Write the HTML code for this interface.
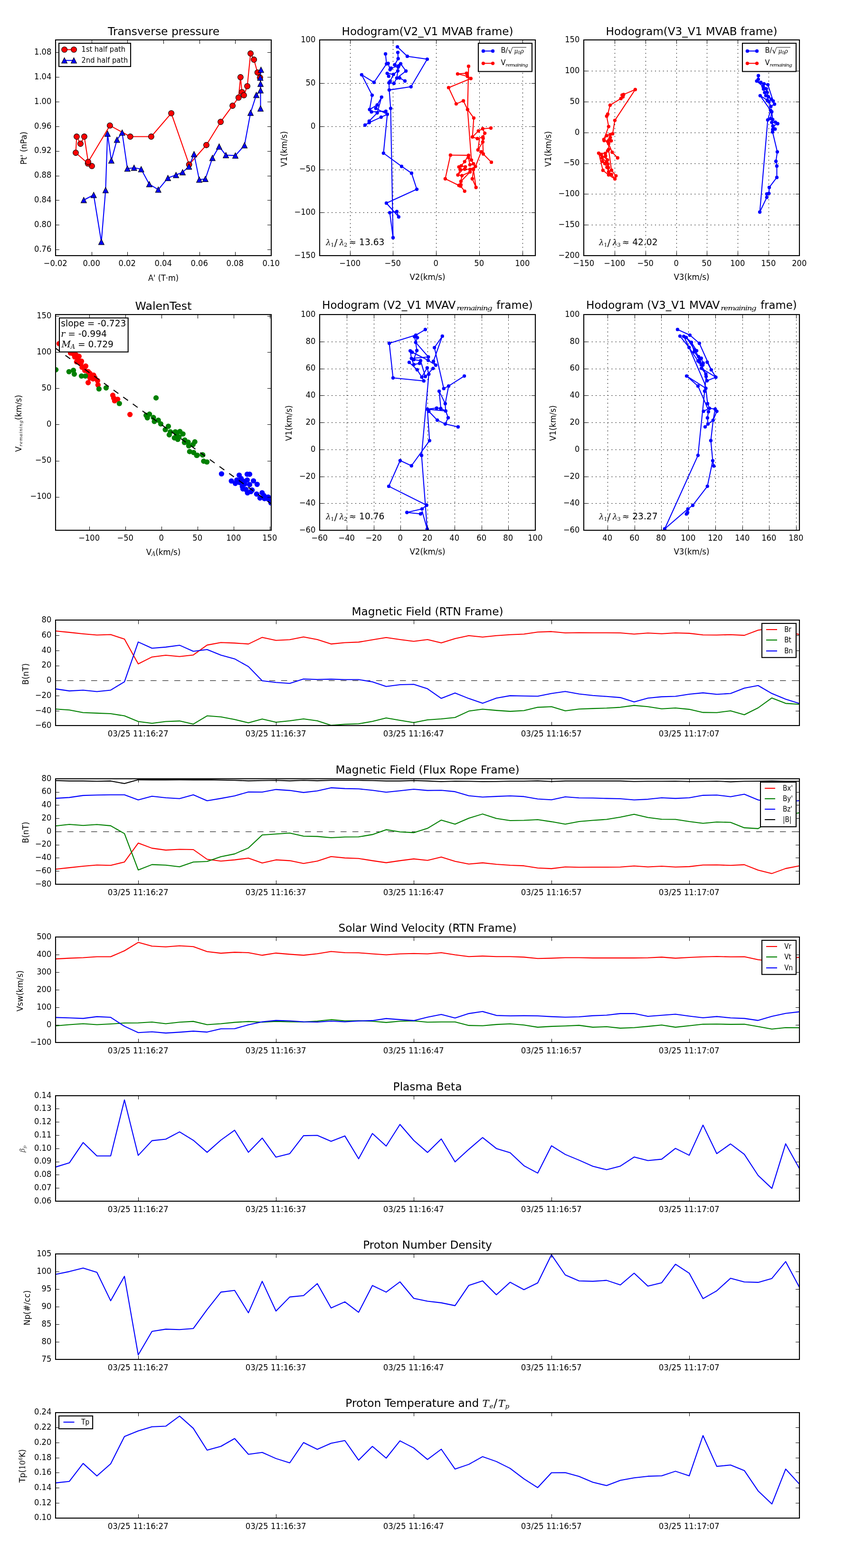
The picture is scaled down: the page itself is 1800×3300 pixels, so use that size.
<!DOCTYPE html>
<html lang="en"><head><meta charset="utf-8"><title>Flux rope analysis figure</title>
<style>
html,body{margin:0;padding:0;background:#fff}
svg{display:block;font-family:"DejaVu Sans", "Liberation Sans", sans-serif}
.sp{fill:none;stroke:#000;stroke-width:2.08}
.tk{fill:none;stroke:#000;stroke-width:1.04}
.gr{fill:none;stroke:#000;stroke-width:1.04;stroke-dasharray:2.08 6.25}
.lg{fill:#fff;stroke:#000;stroke-width:2.08}
.m{font-family:"DejaVu Serif", "Liberation Serif", serif;font-style:italic}
.r{font-family:"DejaVu Serif", "Liberation Serif", serif;font-style:normal}
</style></head>
<body>
<svg width="1800" height="3300" viewBox="0 0 1800 3300">
<rect width="1800" height="3300" fill="#fff"/>
<clipPath id="c1"><rect x="117" y="84" width="454" height="454"/></clipPath>
<polyline points="193.45,349.43 185.09,344.09 159.47,321.49 161.42,287.51 169.43,302.46 177.44,287.51 185.62,340.71 231.35,264.2 274.23,287.51 318.36,287.51 360.6,238.33 398.15,346.26 434.45,305.23 464.52,256.48 489.61,222.49 502.24,205.41 506.33,162.53 509.36,193.84 513.45,200.43 520.57,181.39 527.51,112.53 534.63,125.52 542.1,152.56 547.44,163.24" fill="none" stroke="#ff0000" stroke-width="2.08" stroke-linejoin="round" clip-path="url(#c1)"/>
<polyline points="549.4,146.87 547.97,163.42 548.51,176.41 548.51,228.36 548.51,190.11 539.61,199.89 527.51,237.26 514.7,305.77 495.48,327.4 475.55,326.51 461.32,308.36 447.26,332.38 432.31,376.69 419.5,378.11 408.47,324.38 397.79,350.53 384.45,362.46 370.57,368.33 353.49,374.56 333.2,399.11 314.27,387.69 297.19,356.01 282.24,352.99 268.19,354.95 257.15,279.15 246.3,294.09 234.38,337.86 226.37,281.28 222.28,400.14 213.38,509.04 197.19,410.28 176.37,420.96" fill="none" stroke="#0000ff" stroke-width="2.08" stroke-linejoin="round" clip-path="url(#c1)"/>
<g fill="#ff0000" stroke="#000" stroke-width="1.04" clip-path="url(#c1)">
<circle cx="193.45" cy="349.43" r="5.9"/>
<circle cx="185.09" cy="344.09" r="5.9"/>
<circle cx="159.47" cy="321.49" r="5.9"/>
<circle cx="161.42" cy="287.51" r="5.9"/>
<circle cx="169.43" cy="302.46" r="5.9"/>
<circle cx="177.44" cy="287.51" r="5.9"/>
<circle cx="185.62" cy="340.71" r="5.9"/>
<circle cx="231.35" cy="264.2" r="5.9"/>
<circle cx="274.23" cy="287.51" r="5.9"/>
<circle cx="318.36" cy="287.51" r="5.9"/>
<circle cx="360.6" cy="238.33" r="5.9"/>
<circle cx="398.15" cy="346.26" r="5.9"/>
<circle cx="434.45" cy="305.23" r="5.9"/>
<circle cx="464.52" cy="256.48" r="5.9"/>
<circle cx="489.61" cy="222.49" r="5.9"/>
<circle cx="502.24" cy="205.41" r="5.9"/>
<circle cx="506.33" cy="162.53" r="5.9"/>
<circle cx="509.36" cy="193.84" r="5.9"/>
<circle cx="513.45" cy="200.43" r="5.9"/>
<circle cx="520.57" cy="181.39" r="5.9"/>
<circle cx="527.51" cy="112.53" r="5.9"/>
<circle cx="534.63" cy="125.52" r="5.9"/>
<circle cx="542.1" cy="152.56" r="5.9"/>
<circle cx="547.44" cy="163.24" r="5.9"/>
</g>
<g fill="#0000ff" stroke="#000" stroke-width="1.04" clip-path="url(#c1)">
<path d="M549.4 140.97L543.5 152.77L555.3 152.77Z"/>
<path d="M547.97 157.52L542.07 169.32L553.87 169.32Z"/>
<path d="M548.51 170.51L542.61 182.31L554.41 182.31Z"/>
<path d="M548.51 222.46L542.61 234.26L554.41 234.26Z"/>
<path d="M548.51 184.21L542.61 196.01L554.41 196.01Z"/>
<path d="M539.61 193.99L533.71 205.79L545.51 205.79Z"/>
<path d="M527.51 231.36L521.61 243.16L533.41 243.16Z"/>
<path d="M514.7 299.87L508.8 311.67L520.6 311.67Z"/>
<path d="M495.48 321.5L489.58 333.3L501.38 333.3Z"/>
<path d="M475.55 320.61L469.65 332.41L481.45 332.41Z"/>
<path d="M461.32 302.46L455.42 314.26L467.22 314.26Z"/>
<path d="M447.26 326.48L441.36 338.28L453.16 338.28Z"/>
<path d="M432.31 370.79L426.41 382.59L438.21 382.59Z"/>
<path d="M419.5 372.21L413.6 384.01L425.4 384.01Z"/>
<path d="M408.47 318.48L402.57 330.28L414.37 330.28Z"/>
<path d="M397.79 344.63L391.89 356.43L403.69 356.43Z"/>
<path d="M384.45 356.56L378.55 368.36L390.35 368.36Z"/>
<path d="M370.57 362.43L364.67 374.23L376.47 374.23Z"/>
<path d="M353.49 368.66L347.59 380.46L359.39 380.46Z"/>
<path d="M333.2 393.21L327.3 405.01L339.1 405.01Z"/>
<path d="M314.27 381.79L308.37 393.59L320.17 393.59Z"/>
<path d="M297.19 350.11L291.29 361.91L303.09 361.91Z"/>
<path d="M282.24 347.09L276.34 358.89L288.14 358.89Z"/>
<path d="M268.19 349.05L262.29 360.85L274.09 360.85Z"/>
<path d="M257.15 273.25L251.25 285.05L263.05 285.05Z"/>
<path d="M246.3 288.19L240.4 299.99L252.2 299.99Z"/>
<path d="M234.38 331.96L228.48 343.76L240.28 343.76Z"/>
<path d="M226.37 275.38L220.47 287.18L232.27 287.18Z"/>
<path d="M222.28 394.24L216.38 406.04L228.18 406.04Z"/>
<path d="M213.38 503.14L207.48 514.94L219.28 514.94Z"/>
<path d="M197.19 404.38L191.29 416.18L203.09 416.18Z"/>
<path d="M176.37 415.06L170.47 426.86L182.27 426.86Z"/>
</g>
<path d="M117.5 538.2v-8M117.5 84.2v8M193.5 538.2v-8M193.5 84.2v8M268.5 538.2v-8M268.5 84.2v8M344.5 538.2v-8M344.5 84.2v8M420.5 538.2v-8M420.5 84.2v8M495.5 538.2v-8M495.5 84.2v8M571.5 538.2v-8M571.5 84.2v8M117 525.5h8M571 525.5h-8M117 473.5h8M571 473.5h-8M117 421.5h8M571 421.5h-8M117 370.5h8M571 370.5h-8M117 318.5h8M571 318.5h-8M117 266.5h8M571 266.5h-8M117 214.5h8M571 214.5h-8M117 162.5h8M571 162.5h-8M117 110.5h8M571 110.5h-8" class="tk"/>
<rect x="117" y="84" width="454" height="454" class="sp"/>
<text transform="translate(116.7 560) scale(0.915 1)" font-size="17.8" text-anchor="middle">−0.02</text>
<text transform="translate(192.7 560) scale(0.915 1)" font-size="17.8" text-anchor="middle">0.00</text>
<text transform="translate(267.7 560) scale(0.915 1)" font-size="17.8" text-anchor="middle">0.02</text>
<text transform="translate(343.7 560) scale(0.915 1)" font-size="17.8" text-anchor="middle">0.04</text>
<text transform="translate(419.7 560) scale(0.915 1)" font-size="17.8" text-anchor="middle">0.06</text>
<text transform="translate(494.7 560) scale(0.915 1)" font-size="17.8" text-anchor="middle">0.08</text>
<text transform="translate(570.7 560) scale(0.915 1)" font-size="17.8" text-anchor="middle">0.10</text>
<text transform="translate(108.3 530) scale(0.915 1)" font-size="17.8" text-anchor="end">0.76</text>
<text transform="translate(108.3 478) scale(0.915 1)" font-size="17.8" text-anchor="end">0.80</text>
<text transform="translate(108.3 426) scale(0.915 1)" font-size="17.8" text-anchor="end">0.84</text>
<text transform="translate(108.3 374) scale(0.915 1)" font-size="17.8" text-anchor="end">0.88</text>
<text transform="translate(108.3 322) scale(0.915 1)" font-size="17.8" text-anchor="end">0.92</text>
<text transform="translate(108.3 271) scale(0.915 1)" font-size="17.8" text-anchor="end">0.96</text>
<text transform="translate(108.3 219) scale(0.915 1)" font-size="17.8" text-anchor="end">1.00</text>
<text transform="translate(108.3 167) scale(0.915 1)" font-size="17.8" text-anchor="end">1.04</text>
<text transform="translate(108.3 115) scale(0.915 1)" font-size="17.8" text-anchor="end">1.08</text>
<text transform="translate(344.6 74) scale(0.997 1)" font-size="23.5" text-anchor="middle">Transverse pressure</text>
<text transform="translate(344 591) scale(0.908 1)" font-size="17.8" text-anchor="middle">A' (T·m)</text>
<text transform="translate(56 311.8) rotate(-90) scale(0.934 1)" font-size="17.8" text-anchor="middle">Pt' (nPa)</text>
<rect x="124" y="91" width="151" height="49" class="lg"/>
<polyline points="135.6,104.4 155.5,104.4" fill="none" stroke="#ff0000" stroke-width="2.08" stroke-linejoin="round"/>
<g fill="#ff0000" stroke="#000" stroke-width="1.04">
<circle cx="135.6" cy="104.4" r="5.9"/>
<circle cx="155.5" cy="104.4" r="5.9"/>
</g>
<polyline points="135.6,127.2 155.5,127.2" fill="none" stroke="#0000ff" stroke-width="2.08" stroke-linejoin="round"/>
<g fill="#0000ff" stroke="#000" stroke-width="1.04">
<path d="M135.6 121.3L129.7 133.1L141.5 133.1Z"/>
<path d="M155.5 121.3L149.6 133.1L161.4 133.1Z"/>
</g>
<text transform="translate(171.6 109.1) scale(0.967 1)" font-size="15.1">1st half path</text>
<text transform="translate(171.6 131.9) scale(0.967 1)" font-size="15.1">2nd half path</text>
<clipPath id="c2"><rect x="673" y="84" width="454" height="454"/></clipPath>
<path d="M737.5 538.2V84.2M827.5 538.2V84.2M918.5 538.2V84.2M1009.5 538.2V84.2M1100.5 538.2V84.2M673 447.5H1127M673 357.5H1127M673 266.5H1127M673 175.5H1127" class="gr" clip-path="url(#c2)"/>
<polyline points="836.65,98.54 857.44,118.47 899.43,124.59 865.27,182.53 819.43,189.36 822.42,228.08 827.5,500.2 820.57,447.54 835.37,445.12 839.36,456.51 813.45,427.47 877.51,398.29 866.41,364.41 845.48,350.18 807.33,322.28 815.44,240.46 802.35,246.58 777.3,257.97 768.47,263.24" fill="none" stroke="#0000ff" stroke-width="2.08" stroke-linejoin="round" clip-path="url(#c2)"/>
<polyline points="811.6,113.49 813.74,134.41 787.4,173.27 761.35,157.33 783.42,200.32 778.15,230.5 794.09,220.96 803.35,204.31 794.09,237.62 777.3,254.84 777.3,257.97" fill="none" stroke="#0000ff" stroke-width="2.08" stroke-linejoin="round" clip-path="url(#c2)"/>
<polyline points="778.15,230.5 781.99,235.48 812.31,234.06 815.44,240.46 791.25,228.08 794.09,220.96" fill="none" stroke="#0000ff" stroke-width="2.08" stroke-linejoin="round" clip-path="url(#c2)"/>
<polyline points="817.15,133.42 821.14,146.51 823.27,143.38 839.64,138.4 843.49,134.13 854.59,149.5 835.37,164.31 841.35,164.02 852.46,170.43" fill="none" stroke="#0000ff" stroke-width="2.08" stroke-linejoin="round" clip-path="url(#c2)"/>
<polyline points="837.51,110.36 838.22,123.45 831.1,136.26 839.64,138.4 838.22,141.25 837.51,149.07 828.26,156.62 815.16,154.34 818.29,160.46" fill="none" stroke="#0000ff" stroke-width="2.08" stroke-linejoin="round" clip-path="url(#c2)"/>
<polyline points="828.26,156.62 821.42,170.85 819,174.27 819.43,189.36" fill="none" stroke="#0000ff" stroke-width="2.08" stroke-linejoin="round" clip-path="url(#c2)"/>
<polyline points="819,174.27 829.4,175.41 835.37,164.31 837.51,149.07" fill="none" stroke="#0000ff" stroke-width="2.08" stroke-linejoin="round" clip-path="url(#c2)"/>
<g fill="#0000ff" clip-path="url(#c2)">
<circle cx="836.65" cy="98.54" r="3.65"/>
<circle cx="857.44" cy="118.47" r="3.65"/>
<circle cx="899.43" cy="124.59" r="3.65"/>
<circle cx="865.27" cy="182.53" r="3.65"/>
<circle cx="819.43" cy="189.36" r="3.65"/>
<circle cx="822.42" cy="228.08" r="3.65"/>
<circle cx="827.5" cy="500.2" r="3.65"/>
<circle cx="820.57" cy="447.54" r="3.65"/>
<circle cx="835.37" cy="445.12" r="3.65"/>
<circle cx="839.36" cy="456.51" r="3.65"/>
<circle cx="813.45" cy="427.47" r="3.65"/>
<circle cx="877.51" cy="398.29" r="3.65"/>
<circle cx="866.41" cy="364.41" r="3.65"/>
<circle cx="845.48" cy="350.18" r="3.65"/>
<circle cx="807.33" cy="322.28" r="3.65"/>
<circle cx="815.44" cy="240.46" r="3.65"/>
<circle cx="802.35" cy="246.58" r="3.65"/>
<circle cx="777.3" cy="257.97" r="3.65"/>
<circle cx="768.47" cy="263.24" r="3.65"/>
<circle cx="811.6" cy="113.49" r="3.65"/>
<circle cx="813.74" cy="134.41" r="3.65"/>
<circle cx="787.4" cy="173.27" r="3.65"/>
<circle cx="761.35" cy="157.33" r="3.65"/>
<circle cx="783.42" cy="200.32" r="3.65"/>
<circle cx="778.15" cy="230.5" r="3.65"/>
<circle cx="794.09" cy="220.96" r="3.65"/>
<circle cx="803.35" cy="204.31" r="3.65"/>
<circle cx="794.09" cy="237.62" r="3.65"/>
<circle cx="777.3" cy="254.84" r="3.65"/>
<circle cx="781.99" cy="235.48" r="3.65"/>
<circle cx="812.31" cy="234.06" r="3.65"/>
<circle cx="791.25" cy="228.08" r="3.65"/>
<circle cx="817.15" cy="133.42" r="3.65"/>
<circle cx="821.14" cy="146.51" r="3.65"/>
<circle cx="823.27" cy="143.38" r="3.65"/>
<circle cx="839.64" cy="138.4" r="3.65"/>
<circle cx="843.49" cy="134.13" r="3.65"/>
<circle cx="854.59" cy="149.5" r="3.65"/>
<circle cx="835.37" cy="164.31" r="3.65"/>
<circle cx="841.35" cy="164.02" r="3.65"/>
<circle cx="852.46" cy="170.43" r="3.65"/>
<circle cx="837.51" cy="110.36" r="3.65"/>
<circle cx="838.22" cy="123.45" r="3.65"/>
<circle cx="831.1" cy="136.26" r="3.65"/>
<circle cx="838.22" cy="141.25" r="3.65"/>
<circle cx="837.51" cy="149.07" r="3.65"/>
<circle cx="828.26" cy="156.62" r="3.65"/>
<circle cx="815.16" cy="154.34" r="3.65"/>
<circle cx="818.29" cy="160.46" r="3.65"/>
<circle cx="821.42" cy="170.85" r="3.65"/>
<circle cx="819" cy="174.27" r="3.65"/>
<circle cx="829.4" cy="175.41" r="3.65"/>
</g>
<polyline points="986.48,139.47 984.34,230.43 992.46,336.83" fill="none" stroke="#ff0000" stroke-width="2.08" stroke-linejoin="round" clip-path="url(#c2)"/>
<polyline points="982.21,154.13 963.42,155.55 983.91,160.53 991.32,165.23 944.48,184.45 960.43,218.61 975.52,212.21 984.34,230.43 997.44,248.36 994.59,288.15 1007.12,275.62 1016.23,270.93 1033.45,269.5" fill="none" stroke="#ff0000" stroke-width="2.08" stroke-linejoin="round" clip-path="url(#c2)"/>
<polyline points="1016.23,270.93 1020.64,280.32 1016.65,288.15 1004.98,291.71 994.59,288.15" fill="none" stroke="#ff0000" stroke-width="2.08" stroke-linejoin="round" clip-path="url(#c2)"/>
<polyline points="1009.54,291.28 1006.26,315.48 1016.37,298.68 1017.37,324.02 1034.45,341.39" fill="none" stroke="#ff0000" stroke-width="2.08" stroke-linejoin="round" clip-path="url(#c2)"/>
<polyline points="1017.08,291.28 1016.37,298.68" fill="none" stroke="#ff0000" stroke-width="2.08" stroke-linejoin="round" clip-path="url(#c2)"/>
<polyline points="1017.37,324.02 1013.1,319.32 1001,350.36 989.61,356.48 978.22,356.05 968.97,356.76 963.99,368.15 979.64,351.07 971.1,348.93 966.12,351.35 968.97,356.76" fill="none" stroke="#ff0000" stroke-width="2.08" stroke-linejoin="round" clip-path="url(#c2)"/>
<polyline points="948.33,326.44 986.48,326.87 986.05,331.14 992.46,336.83 996.73,344.66 1001,350.36 996.73,356.76 1002.14,394.48 994.31,376.26 996.73,356.76" fill="none" stroke="#ff0000" stroke-width="2.08" stroke-linejoin="round" clip-path="url(#c2)"/>
<polyline points="986.48,326.87 978.22,340.11 971.1,348.93" fill="none" stroke="#ff0000" stroke-width="2.08" stroke-linejoin="round" clip-path="url(#c2)"/>
<polyline points="948.33,326.44 937.37,376.26 966.12,390.21 970.39,388.79 969.68,391.64 978.22,402.31" fill="none" stroke="#ff0000" stroke-width="2.08" stroke-linejoin="round" clip-path="url(#c2)"/>
<polyline points="989.61,361.74 970.39,381.67 966.12,390.21" fill="none" stroke="#ff0000" stroke-width="2.08" stroke-linejoin="round" clip-path="url(#c2)"/>
<polyline points="972.53,369.57 970.39,381.67" fill="none" stroke="#ff0000" stroke-width="2.08" stroke-linejoin="round" clip-path="url(#c2)"/>
<polyline points="963.99,368.15 972.53,369.57 989.61,361.74" fill="none" stroke="#ff0000" stroke-width="2.08" stroke-linejoin="round" clip-path="url(#c2)"/>
<polyline points="986.05,331.14 989.32,346.8 996.73,344.66" fill="none" stroke="#ff0000" stroke-width="2.08" stroke-linejoin="round" clip-path="url(#c2)"/>
<g fill="#ff0000" clip-path="url(#c2)">
<circle cx="986.48" cy="139.47" r="3.65"/>
<circle cx="984.34" cy="230.43" r="3.65"/>
<circle cx="992.46" cy="336.83" r="3.65"/>
<circle cx="982.21" cy="154.13" r="3.65"/>
<circle cx="963.42" cy="155.55" r="3.65"/>
<circle cx="983.91" cy="160.53" r="3.65"/>
<circle cx="991.32" cy="165.23" r="3.65"/>
<circle cx="944.48" cy="184.45" r="3.65"/>
<circle cx="960.43" cy="218.61" r="3.65"/>
<circle cx="975.52" cy="212.21" r="3.65"/>
<circle cx="997.44" cy="248.36" r="3.65"/>
<circle cx="994.59" cy="288.15" r="3.65"/>
<circle cx="1007.12" cy="275.62" r="3.65"/>
<circle cx="1016.23" cy="270.93" r="3.65"/>
<circle cx="1033.45" cy="269.5" r="3.65"/>
<circle cx="1020.64" cy="280.32" r="3.65"/>
<circle cx="1016.65" cy="288.15" r="3.65"/>
<circle cx="1004.98" cy="291.71" r="3.65"/>
<circle cx="1006.26" cy="315.48" r="3.65"/>
<circle cx="1016.37" cy="298.68" r="3.65"/>
<circle cx="1017.37" cy="324.02" r="3.65"/>
<circle cx="1034.45" cy="341.39" r="3.65"/>
<circle cx="1017.08" cy="291.28" r="3.65"/>
<circle cx="1013.1" cy="319.32" r="3.65"/>
<circle cx="1001" cy="350.36" r="3.65"/>
<circle cx="989.61" cy="356.48" r="3.65"/>
<circle cx="978.22" cy="356.05" r="3.65"/>
<circle cx="968.97" cy="356.76" r="3.65"/>
<circle cx="963.99" cy="368.15" r="3.65"/>
<circle cx="979.64" cy="351.07" r="3.65"/>
<circle cx="971.1" cy="348.93" r="3.65"/>
<circle cx="966.12" cy="351.35" r="3.65"/>
<circle cx="948.33" cy="326.44" r="3.65"/>
<circle cx="986.48" cy="326.87" r="3.65"/>
<circle cx="986.05" cy="331.14" r="3.65"/>
<circle cx="996.73" cy="344.66" r="3.65"/>
<circle cx="996.73" cy="356.76" r="3.65"/>
<circle cx="1002.14" cy="394.48" r="3.65"/>
<circle cx="994.31" cy="376.26" r="3.65"/>
<circle cx="978.22" cy="340.11" r="3.65"/>
<circle cx="937.37" cy="376.26" r="3.65"/>
<circle cx="966.12" cy="390.21" r="3.65"/>
<circle cx="970.39" cy="388.79" r="3.65"/>
<circle cx="969.68" cy="391.64" r="3.65"/>
<circle cx="978.22" cy="402.31" r="3.65"/>
<circle cx="989.61" cy="361.74" r="3.65"/>
<circle cx="970.39" cy="381.67" r="3.65"/>
<circle cx="972.53" cy="369.57" r="3.65"/>
<circle cx="989.32" cy="346.8" r="3.65"/>
</g>
<path d="M737.5 538.2v-8M737.5 84.2v8M827.5 538.2v-8M827.5 84.2v8M918.5 538.2v-8M918.5 84.2v8M1009.5 538.2v-8M1009.5 84.2v8M1100.5 538.2v-8M1100.5 84.2v8M673 538.5h8M1127 538.5h-8M673 447.5h8M1127 447.5h-8M673 357.5h8M1127 357.5h-8M673 266.5h8M1127 266.5h-8M673 175.5h8M1127 175.5h-8M673 84.5h8M1127 84.5h-8" class="tk"/>
<rect x="673" y="84" width="454" height="454" class="sp"/>
<text transform="translate(736.7 560) scale(0.915 1)" font-size="17.8" text-anchor="middle">−100</text>
<text transform="translate(826.7 560) scale(0.915 1)" font-size="17.8" text-anchor="middle">−50</text>
<text transform="translate(917.7 560) scale(0.915 1)" font-size="17.8" text-anchor="middle">0</text>
<text transform="translate(1008.7 560) scale(0.915 1)" font-size="17.8" text-anchor="middle">50</text>
<text transform="translate(1099.7 560) scale(0.915 1)" font-size="17.8" text-anchor="middle">100</text>
<text transform="translate(664.3 543) scale(0.915 1)" font-size="17.8" text-anchor="end">−150</text>
<text transform="translate(664.3 452) scale(0.915 1)" font-size="17.8" text-anchor="end">−100</text>
<text transform="translate(664.3 361) scale(0.915 1)" font-size="17.8" text-anchor="end">−50</text>
<text transform="translate(664.3 271) scale(0.915 1)" font-size="17.8" text-anchor="end">0</text>
<text transform="translate(664.3 180) scale(0.915 1)" font-size="17.8" text-anchor="end">50</text>
<text transform="translate(664.3 89) scale(0.915 1)" font-size="17.8" text-anchor="end">100</text>
<text transform="translate(900 74) scale(0.984 1)" font-size="23.5" text-anchor="middle">Hodogram(V2_V1 MVAB frame)</text>
<text transform="translate(900 589) scale(0.934 1)" font-size="17.8" text-anchor="middle">V2(km/s)</text>
<text transform="translate(604.2 313.5) rotate(-90) scale(0.934 1)" font-size="17.8" text-anchor="middle">V1(km/s)</text>
<rect x="1007" y="91" width="113" height="59.5" class="lg"/>
<polyline points="1017.4,107.4 1037.5,107.4" fill="none" stroke="#0000ff" stroke-width="2.08" stroke-linejoin="round"/>
<g fill="#0000ff">
<circle cx="1017.4" cy="107.4" r="3.65"/>
<circle cx="1037.5" cy="107.4" r="3.65"/>
</g>
<polyline points="1017.4,133.3 1037.5,133.3" fill="none" stroke="#ff0000" stroke-width="2.08" stroke-linejoin="round"/>
<g fill="#ff0000">
<circle cx="1017.4" cy="133.3" r="3.65"/>
<circle cx="1037.5" cy="133.3" r="3.65"/>
</g>
<text transform="translate(1054.6 110.9) scale(0.967 1)" font-size="15.1">B/</text>
<text y="112.6" font-size="12"><tspan x="1069.2" class="r" font-size="17">√</tspan><tspan x="1082.5" dy="-0.9" class="m">μ</tspan><tspan x="1090.2" dy="2.3" class="r" font-size="8.5">0</tspan><tspan x="1095.5" dy="-2.3" class="m">ρ</tspan></text>
<path d="M1080.2 99.6H1108" stroke="#000" stroke-width="0.9" fill="none"/>
<text transform="translate(1054.6 137.3) scale(0.967 1)" font-size="15.1">V</text>
<text transform="translate(1064.3 139.8) scale(1.25 1)" font-size="8.6" class="m" textLength="38" lengthAdjust="spacing">remaining</text>
<text y="515.9" font-size="18.75"><tspan x="685.9" class="m" font-size="16.5">λ</tspan><tspan x="696.2" dy="3" class="r" font-size="11.5">1</tspan><tspan x="703.5" dy="-1" class="r" font-size="21" font-weight="200">/</tspan><tspan x="714.3" dy="-2" class="m" font-size="16.5">λ</tspan><tspan x="724.1" dy="3" class="r" font-size="11.5">2</tspan><tspan x="734.7" dy="-3" class="r" font-size="18">≈</tspan></text>
<text transform="translate(756.1 515.9) scale(0.994 1)" font-size="18.75">13.63</text>
<clipPath id="c3"><rect x="1229" y="84" width="454" height="454"/></clipPath>
<path d="M1294.5 538.2V84.2M1359.5 538.2V84.2M1424.5 538.2V84.2M1488.5 538.2V84.2M1553.5 538.2V84.2M1618.5 538.2V84.2M1229 473.5H1683M1229 408.5H1683M1229 344.5H1683M1229 279.5H1683M1229 214.5H1683M1229 149.5H1683" class="gr" clip-path="url(#c3)"/>
<polyline points="1337.37,188.42 1312.88,198.9 1309.69,200.04 1311.52,203.79 1307.19,207.44 1284.41,221.33 1279.52,240.23 1277.24,244.45 1281.34,266.31 1271.35,293.38 1277.33,285.41 1284.6,283.12 1289.79,281.42 1294.43,253.33 1337.37,188.42" fill="none" stroke="#ff0000" stroke-width="2.08" stroke-linejoin="round" clip-path="url(#c3)"/>
<polyline points="1271.35,293.38 1271.85,295.87 1279.32,297.86 1282.31,294.38 1284.8,289.4 1284.6,283.12" fill="none" stroke="#ff0000" stroke-width="2.08" stroke-linejoin="round" clip-path="url(#c3)"/>
<polyline points="1282.31,294.38 1286.8,296.37 1281.32,302.35 1281.32,314.31 1279.32,317.3 1274.34,322.78 1260.39,322.28 1269.36,358.45 1281.32,368.11 1294.57,376.58 1296.76,370.11 1287.3,358.15 1281.32,314.31" fill="none" stroke="#ff0000" stroke-width="2.08" stroke-linejoin="round" clip-path="url(#c3)"/>
<polyline points="1281.32,302.35 1288.79,320.28 1300.25,332.24" fill="none" stroke="#ff0000" stroke-width="2.08" stroke-linejoin="round" clip-path="url(#c3)"/>
<polyline points="1260.39,322.28 1265.87,325.77 1267.37,332.24 1268.36,339.72 1273.35,344.2 1277.83,352.17 1281.32,361.64 1287.3,367.12 1294.57,376.58" fill="none" stroke="#ff0000" stroke-width="2.08" stroke-linejoin="round" clip-path="url(#c3)"/>
<polyline points="1274.34,322.78 1274.84,328.26 1278.83,336.73 1276.83,340.71 1279.82,345.2 1280.82,352.67 1281.32,361.64" fill="none" stroke="#ff0000" stroke-width="2.08" stroke-linejoin="round" clip-path="url(#c3)"/>
<polyline points="1265.87,325.77 1278.83,336.73" fill="none" stroke="#ff0000" stroke-width="2.08" stroke-linejoin="round" clip-path="url(#c3)"/>
<polyline points="1267.37,332.24 1276.83,340.71" fill="none" stroke="#ff0000" stroke-width="2.08" stroke-linejoin="round" clip-path="url(#c3)"/>
<g fill="#ff0000" clip-path="url(#c3)">
<circle cx="1337.37" cy="188.42" r="3.65"/>
<circle cx="1312.88" cy="198.9" r="3.65"/>
<circle cx="1309.69" cy="200.04" r="3.65"/>
<circle cx="1311.52" cy="203.79" r="3.65"/>
<circle cx="1307.19" cy="207.44" r="3.65"/>
<circle cx="1284.41" cy="221.33" r="3.65"/>
<circle cx="1279.52" cy="240.23" r="3.65"/>
<circle cx="1277.24" cy="244.45" r="3.65"/>
<circle cx="1281.34" cy="266.31" r="3.65"/>
<circle cx="1271.35" cy="293.38" r="3.65"/>
<circle cx="1277.33" cy="285.41" r="3.65"/>
<circle cx="1284.6" cy="283.12" r="3.65"/>
<circle cx="1289.79" cy="281.42" r="3.65"/>
<circle cx="1294.43" cy="253.33" r="3.65"/>
<circle cx="1271.85" cy="295.87" r="3.65"/>
<circle cx="1279.32" cy="297.86" r="3.65"/>
<circle cx="1282.31" cy="294.38" r="3.65"/>
<circle cx="1284.8" cy="289.4" r="3.65"/>
<circle cx="1286.8" cy="296.37" r="3.65"/>
<circle cx="1281.32" cy="302.35" r="3.65"/>
<circle cx="1281.32" cy="314.31" r="3.65"/>
<circle cx="1279.32" cy="317.3" r="3.65"/>
<circle cx="1274.34" cy="322.78" r="3.65"/>
<circle cx="1260.39" cy="322.28" r="3.65"/>
<circle cx="1269.36" cy="358.45" r="3.65"/>
<circle cx="1281.32" cy="368.11" r="3.65"/>
<circle cx="1294.57" cy="376.58" r="3.65"/>
<circle cx="1296.76" cy="370.11" r="3.65"/>
<circle cx="1287.3" cy="358.15" r="3.65"/>
<circle cx="1288.79" cy="320.28" r="3.65"/>
<circle cx="1300.25" cy="332.24" r="3.65"/>
<circle cx="1265.87" cy="325.77" r="3.65"/>
<circle cx="1267.37" cy="332.24" r="3.65"/>
<circle cx="1268.36" cy="339.72" r="3.65"/>
<circle cx="1273.35" cy="344.2" r="3.65"/>
<circle cx="1277.83" cy="352.17" r="3.65"/>
<circle cx="1281.32" cy="361.64" r="3.65"/>
<circle cx="1287.3" cy="367.12" r="3.65"/>
<circle cx="1274.84" cy="328.26" r="3.65"/>
<circle cx="1278.83" cy="336.73" r="3.65"/>
<circle cx="1276.83" cy="340.71" r="3.65"/>
<circle cx="1279.82" cy="345.2" r="3.65"/>
<circle cx="1280.82" cy="352.67" r="3.65"/>
</g>
<polyline points="1596.57,159.23 1596.37,166.9 1593.08,170.59 1601.85,173.38 1608.53,176.37 1616.6,178.36 1627.76,212.74 1630.55,219.22 1622.78,224.2 1618.79,214.23 1615.3,210.75 1600.36,201.28 1622.28,232.17 1624.77,235.16 1622.28,249.61" fill="none" stroke="#0000ff" stroke-width="2.08" stroke-linejoin="round" clip-path="url(#c3)"/>
<polyline points="1593.08,170.59 1606.33,181.85 1607.33,187.33 1609.82,194.8 1612.31,201.28 1617.79,203.77 1623.77,208.75 1627.76,212.74" fill="none" stroke="#0000ff" stroke-width="2.08" stroke-linejoin="round" clip-path="url(#c3)"/>
<polyline points="1601.85,173.38 1613.31,186.83 1614.8,193.81 1617.79,203.77" fill="none" stroke="#0000ff" stroke-width="2.08" stroke-linejoin="round" clip-path="url(#c3)"/>
<polyline points="1622.28,232.17 1616.3,252.4 1599.56,446.26 1614.31,415.37 1614.31,408.2 1618.79,407.1 1619.49,394.45 1635.43,373.4 1635.43,349.48 1633.54,339.42 1636.43,319.59 1626.46,277.74 1626.76,272.46 1631.74,271.66 1627.26,265.48 1637.22,260.27 1632.24,257.08 1624.77,257.58 1626.76,251.6 1624.77,235.16" fill="none" stroke="#0000ff" stroke-width="2.08" stroke-linejoin="round" clip-path="url(#c3)"/>
<polyline points="1616.3,252.4 1622.28,249.61 1626.76,251.6" fill="none" stroke="#0000ff" stroke-width="2.08" stroke-linejoin="round" clip-path="url(#c3)"/>
<polyline points="1624.77,257.58 1627.26,265.05" fill="none" stroke="#0000ff" stroke-width="2.08" stroke-linejoin="round" clip-path="url(#c3)"/>
<g fill="#0000ff" clip-path="url(#c3)">
<circle cx="1596.57" cy="159.23" r="3.65"/>
<circle cx="1596.37" cy="166.9" r="3.65"/>
<circle cx="1593.08" cy="170.59" r="3.65"/>
<circle cx="1601.85" cy="173.38" r="3.65"/>
<circle cx="1608.53" cy="176.37" r="3.65"/>
<circle cx="1616.6" cy="178.36" r="3.65"/>
<circle cx="1627.76" cy="212.74" r="3.65"/>
<circle cx="1630.55" cy="219.22" r="3.65"/>
<circle cx="1622.78" cy="224.2" r="3.65"/>
<circle cx="1618.79" cy="214.23" r="3.65"/>
<circle cx="1615.3" cy="210.75" r="3.65"/>
<circle cx="1600.36" cy="201.28" r="3.65"/>
<circle cx="1622.28" cy="232.17" r="3.65"/>
<circle cx="1624.77" cy="235.16" r="3.65"/>
<circle cx="1622.28" cy="249.61" r="3.65"/>
<circle cx="1606.33" cy="181.85" r="3.65"/>
<circle cx="1607.33" cy="187.33" r="3.65"/>
<circle cx="1609.82" cy="194.8" r="3.65"/>
<circle cx="1612.31" cy="201.28" r="3.65"/>
<circle cx="1617.79" cy="203.77" r="3.65"/>
<circle cx="1623.77" cy="208.75" r="3.65"/>
<circle cx="1613.31" cy="186.83" r="3.65"/>
<circle cx="1614.8" cy="193.81" r="3.65"/>
<circle cx="1616.3" cy="252.4" r="3.65"/>
<circle cx="1599.56" cy="446.26" r="3.65"/>
<circle cx="1614.31" cy="415.37" r="3.65"/>
<circle cx="1614.31" cy="408.2" r="3.65"/>
<circle cx="1618.79" cy="407.1" r="3.65"/>
<circle cx="1619.49" cy="394.45" r="3.65"/>
<circle cx="1635.43" cy="373.4" r="3.65"/>
<circle cx="1635.43" cy="349.48" r="3.65"/>
<circle cx="1633.54" cy="339.42" r="3.65"/>
<circle cx="1636.43" cy="319.59" r="3.65"/>
<circle cx="1626.46" cy="277.74" r="3.65"/>
<circle cx="1626.76" cy="272.46" r="3.65"/>
<circle cx="1631.74" cy="271.66" r="3.65"/>
<circle cx="1627.26" cy="265.48" r="3.65"/>
<circle cx="1637.22" cy="260.27" r="3.65"/>
<circle cx="1632.24" cy="257.08" r="3.65"/>
<circle cx="1624.77" cy="257.58" r="3.65"/>
<circle cx="1626.76" cy="251.6" r="3.65"/>
<circle cx="1627.26" cy="265.05" r="3.65"/>
</g>
<path d="M1229.5 538.2v-8M1229.5 84.2v8M1294.5 538.2v-8M1294.5 84.2v8M1359.5 538.2v-8M1359.5 84.2v8M1424.5 538.2v-8M1424.5 84.2v8M1488.5 538.2v-8M1488.5 84.2v8M1553.5 538.2v-8M1553.5 84.2v8M1618.5 538.2v-8M1618.5 84.2v8M1683.5 538.2v-8M1683.5 84.2v8M1229 538.5h8M1683 538.5h-8M1229 473.5h8M1683 473.5h-8M1229 408.5h8M1683 408.5h-8M1229 344.5h8M1683 344.5h-8M1229 279.5h8M1683 279.5h-8M1229 214.5h8M1683 214.5h-8M1229 149.5h8M1683 149.5h-8M1229 84.5h8M1683 84.5h-8" class="tk"/>
<rect x="1229" y="84" width="454" height="454" class="sp"/>
<text transform="translate(1228.7 560) scale(0.915 1)" font-size="17.8" text-anchor="middle">−150</text>
<text transform="translate(1293.7 560) scale(0.915 1)" font-size="17.8" text-anchor="middle">−100</text>
<text transform="translate(1358.7 560) scale(0.915 1)" font-size="17.8" text-anchor="middle">−50</text>
<text transform="translate(1423.7 560) scale(0.915 1)" font-size="17.8" text-anchor="middle">0</text>
<text transform="translate(1487.7 560) scale(0.915 1)" font-size="17.8" text-anchor="middle">50</text>
<text transform="translate(1552.7 560) scale(0.915 1)" font-size="17.8" text-anchor="middle">100</text>
<text transform="translate(1617.7 560) scale(0.915 1)" font-size="17.8" text-anchor="middle">150</text>
<text transform="translate(1682.7 560) scale(0.915 1)" font-size="17.8" text-anchor="middle">200</text>
<text transform="translate(1220.3 543) scale(0.915 1)" font-size="17.8" text-anchor="end">−200</text>
<text transform="translate(1220.3 478) scale(0.915 1)" font-size="17.8" text-anchor="end">−150</text>
<text transform="translate(1220.3 413) scale(0.915 1)" font-size="17.8" text-anchor="end">−100</text>
<text transform="translate(1220.3 348) scale(0.915 1)" font-size="17.8" text-anchor="end">−50</text>
<text transform="translate(1220.3 284) scale(0.915 1)" font-size="17.8" text-anchor="end">0</text>
<text transform="translate(1220.3 219) scale(0.915 1)" font-size="17.8" text-anchor="end">50</text>
<text transform="translate(1220.3 154) scale(0.915 1)" font-size="17.8" text-anchor="end">100</text>
<text transform="translate(1220.3 89) scale(0.915 1)" font-size="17.8" text-anchor="end">150</text>
<text transform="translate(1456 74) scale(0.984 1)" font-size="23.5" text-anchor="middle">Hodogram(V3_V1 MVAB frame)</text>
<text transform="translate(1456 589) scale(0.934 1)" font-size="17.8" text-anchor="middle">V3(km/s)</text>
<text transform="translate(1160.2 313.5) rotate(-90) scale(0.934 1)" font-size="17.8" text-anchor="middle">V1(km/s)</text>
<rect x="1563" y="91" width="113" height="59.5" class="lg"/>
<polyline points="1573.4,107.4 1593.5,107.4" fill="none" stroke="#0000ff" stroke-width="2.08" stroke-linejoin="round"/>
<g fill="#0000ff">
<circle cx="1573.4" cy="107.4" r="3.65"/>
<circle cx="1593.5" cy="107.4" r="3.65"/>
</g>
<polyline points="1573.4,133.3 1593.5,133.3" fill="none" stroke="#ff0000" stroke-width="2.08" stroke-linejoin="round"/>
<g fill="#ff0000">
<circle cx="1573.4" cy="133.3" r="3.65"/>
<circle cx="1593.5" cy="133.3" r="3.65"/>
</g>
<text transform="translate(1610.6 110.9) scale(0.967 1)" font-size="15.1">B/</text>
<text y="112.6" font-size="12"><tspan x="1625.2" class="r" font-size="17">√</tspan><tspan x="1638.5" dy="-0.9" class="m">μ</tspan><tspan x="1646.2" dy="2.3" class="r" font-size="8.5">0</tspan><tspan x="1651.5" dy="-2.3" class="m">ρ</tspan></text>
<path d="M1636.2 99.6H1664" stroke="#000" stroke-width="0.9" fill="none"/>
<text transform="translate(1610.6 137.3) scale(0.967 1)" font-size="15.1">V</text>
<text transform="translate(1620.3 139.8) scale(1.25 1)" font-size="8.6" class="m" textLength="38" lengthAdjust="spacing">remaining</text>
<text y="515.9" font-size="18.75"><tspan x="1261" class="m" font-size="16.5">λ</tspan><tspan x="1271.3" dy="3" class="r" font-size="11.5">1</tspan><tspan x="1278.6" dy="-1" class="r" font-size="21" font-weight="200">/</tspan><tspan x="1289.4" dy="-2" class="m" font-size="16.5">λ</tspan><tspan x="1299.2" dy="3" class="r" font-size="11.5">3</tspan><tspan x="1309.8" dy="-3" class="r" font-size="18">≈</tspan></text>
<text transform="translate(1331.2 515.9) scale(0.994 1)" font-size="18.75">42.02</text>
<clipPath id="c4"><rect x="117" y="662" width="454" height="454"/></clipPath>
<g fill="#ff0000" clip-path="url(#c4)">
<circle cx="124.5" cy="723.2" r="5.6"/>
<circle cx="148.43" cy="742.92" r="5.6"/>
<circle cx="154.2" cy="744.84" r="5.6"/>
<circle cx="159.96" cy="746.76" r="5.6"/>
<circle cx="157.4" cy="751.25" r="5.6"/>
<circle cx="166.37" cy="749.96" r="5.6"/>
<circle cx="163.81" cy="755.09" r="5.6"/>
<circle cx="161.25" cy="761.49" r="5.6"/>
<circle cx="171.49" cy="760.21" r="5.6"/>
<circle cx="170.21" cy="765.34" r="5.6"/>
<circle cx="172.78" cy="773.02" r="5.6"/>
<circle cx="180.46" cy="770.46" r="5.6"/>
<circle cx="178.54" cy="779.43" r="5.6"/>
<circle cx="185.59" cy="781.99" r="5.6"/>
<circle cx="189.43" cy="785.84" r="5.6"/>
<circle cx="186.87" cy="789.68" r="5.6"/>
<circle cx="191.99" cy="792.24" r="5.6"/>
<circle cx="197.12" cy="789.68" r="5.6"/>
<circle cx="189.43" cy="795.44" r="5.6"/>
<circle cx="195.84" cy="797.37" r="5.6"/>
<circle cx="199.68" cy="794.8" r="5.6"/>
<circle cx="205.44" cy="801.21" r="5.6"/>
<circle cx="185.59" cy="805.31" r="5.6"/>
<circle cx="206.34" cy="810.18" r="5.6"/>
<circle cx="237.47" cy="831.96" r="5.6"/>
<circle cx="239.4" cy="837.72" r="5.6"/>
<circle cx="247.72" cy="840.28" r="5.6"/>
<circle cx="241.32" cy="843.49" r="5.6"/>
<circle cx="273.6" cy="872.31" r="5.6"/>
</g>
<g fill="#008000" clip-path="url(#c4)">
<circle cx="117.69" cy="778.15" r="5.6"/>
<circle cx="145.23" cy="782.25" r="5.6"/>
<circle cx="154.58" cy="779.43" r="5.6"/>
<circle cx="156.38" cy="787.37" r="5.6"/>
<circle cx="171.49" cy="791.35" r="5.6"/>
<circle cx="179.82" cy="791.35" r="5.6"/>
<circle cx="208.39" cy="818.51" r="5.6"/>
<circle cx="223.38" cy="816.33" r="5.6"/>
<circle cx="251.31" cy="849.25" r="5.6"/>
<circle cx="328.53" cy="837.4" r="5.6"/>
<circle cx="307.65" cy="874.16" r="5.6"/>
<circle cx="314.7" cy="871.6" r="5.6"/>
<circle cx="310.21" cy="879.29" r="5.6"/>
<circle cx="323.02" cy="878.65" r="5.6"/>
<circle cx="324.95" cy="886.98" r="5.6"/>
<circle cx="333.27" cy="884.41" r="5.6"/>
<circle cx="338.4" cy="892.1" r="5.6"/>
<circle cx="354.41" cy="897.22" r="5.6"/>
<circle cx="348.01" cy="904.27" r="5.6"/>
<circle cx="358.64" cy="908.75" r="5.6"/>
<circle cx="356.33" cy="915.16" r="5.6"/>
<circle cx="369.15" cy="908.75" r="5.6"/>
<circle cx="378.75" cy="908.11" r="5.6"/>
<circle cx="371.71" cy="914.52" r="5.6"/>
<circle cx="385.16" cy="913.24" r="5.6"/>
<circle cx="367.22" cy="921.57" r="5.6"/>
<circle cx="376.83" cy="919.64" r="5.6"/>
<circle cx="374.27" cy="924.77" r="5.6"/>
<circle cx="389" cy="926.05" r="5.6"/>
<circle cx="388.36" cy="931.17" r="5.6"/>
<circle cx="396.05" cy="930.53" r="5.6"/>
<circle cx="410.14" cy="929.89" r="5.6"/>
<circle cx="397.33" cy="938.22" r="5.6"/>
<circle cx="406.3" cy="935.66" r="5.6"/>
<circle cx="399.25" cy="950.39" r="5.6"/>
<circle cx="407.58" cy="952.31" r="5.6"/>
<circle cx="415.27" cy="958.08" r="5.6"/>
<circle cx="426.8" cy="957.44" r="5.6"/>
<circle cx="414.09" cy="958.43" r="5.6"/>
<circle cx="426.26" cy="957.15" r="5.6"/>
<circle cx="428.83" cy="970.6" r="5.6"/>
<circle cx="435.62" cy="972.27" r="5.6"/>
</g>
<g fill="#0000ff" clip-path="url(#c4)">
<circle cx="466.36" cy="997.25" r="5.6"/>
<circle cx="487.12" cy="1012.24" r="5.6"/>
<circle cx="495.44" cy="1017.37" r="5.6"/>
<circle cx="498.65" cy="1010.32" r="5.6"/>
<circle cx="503.52" cy="1000.07" r="5.6"/>
<circle cx="507.62" cy="1007.12" r="5.6"/>
<circle cx="504.41" cy="1015.44" r="5.6"/>
<circle cx="511.46" cy="1012.24" r="5.6"/>
<circle cx="520.43" cy="998.15" r="5.6"/>
<circle cx="525.55" cy="998.15" r="5.6"/>
<circle cx="520.43" cy="1010.32" r="5.6"/>
<circle cx="515.3" cy="1018.65" r="5.6"/>
<circle cx="510.18" cy="1023.77" r="5.6"/>
<circle cx="525.55" cy="1019.93" r="5.6"/>
<circle cx="511.46" cy="1028.9" r="5.6"/>
<circle cx="517.86" cy="1030.18" r="5.6"/>
<circle cx="521.07" cy="1037.22" r="5.6"/>
<circle cx="528.11" cy="1034.66" r="5.6"/>
<circle cx="530.68" cy="1031.46" r="5.6"/>
<circle cx="533.62" cy="1011.99" r="5.6"/>
<circle cx="541.31" cy="1019.29" r="5.6"/>
<circle cx="540.28" cy="1039.79" r="5.6"/>
<circle cx="547.33" cy="1048.11" r="5.6"/>
<circle cx="551.81" cy="1037.22" r="5.6"/>
<circle cx="555.66" cy="1042.99" r="5.6"/>
<circle cx="556.94" cy="1049.4" r="5.6"/>
<circle cx="564.63" cy="1046.19" r="5.6"/>
<circle cx="565.27" cy="1050.68" r="5.6"/>
<circle cx="570.39" cy="1051.96" r="5.6"/>
<circle cx="570.39" cy="1058.36" r="5.6"/>
</g>
<polyline points="117.4,733.2 571,1060.3" fill="none" stroke="#000" stroke-width="2.08" stroke-linejoin="round" clip-path="url(#c4)" stroke-dasharray="12.5 12.5"/>
<path d="M188.5 1116.2v-8M188.5 662.2v8M264.5 1116.2v-8M264.5 662.2v8M340.5 1116.2v-8M340.5 662.2v8M416.5 1116.2v-8M416.5 662.2v8M492.5 1116.2v-8M492.5 662.2v8M568.5 1116.2v-8M568.5 662.2v8M117 1046.5h8M571 1046.5h-8M117 970.5h8M571 970.5h-8M117 893.5h8M571 893.5h-8M117 817.5h8M571 817.5h-8M117 741.5h8M571 741.5h-8M117 665.5h8M571 665.5h-8" class="tk"/>
<rect x="117" y="662" width="454" height="454" class="sp"/>
<text transform="translate(187.7 1138) scale(0.915 1)" font-size="17.8" text-anchor="middle">−100</text>
<text transform="translate(263.7 1138) scale(0.915 1)" font-size="17.8" text-anchor="middle">−50</text>
<text transform="translate(339.7 1138) scale(0.915 1)" font-size="17.8" text-anchor="middle">0</text>
<text transform="translate(415.7 1138) scale(0.915 1)" font-size="17.8" text-anchor="middle">50</text>
<text transform="translate(491.7 1138) scale(0.915 1)" font-size="17.8" text-anchor="middle">100</text>
<text transform="translate(567.7 1138) scale(0.915 1)" font-size="17.8" text-anchor="middle">150</text>
<text transform="translate(108.3 1050) scale(0.915 1)" font-size="17.8" text-anchor="end">−100</text>
<text transform="translate(108.3 974) scale(0.915 1)" font-size="17.8" text-anchor="end">−50</text>
<text transform="translate(108.3 898) scale(0.915 1)" font-size="17.8" text-anchor="end">0</text>
<text transform="translate(108.3 822) scale(0.915 1)" font-size="17.8" text-anchor="end">50</text>
<text transform="translate(108.3 746) scale(0.915 1)" font-size="17.8" text-anchor="end">100</text>
<text transform="translate(108.3 670) scale(0.915 1)" font-size="17.8" text-anchor="end">150</text>
<rect x="125" y="669.2" width="144.7" height="71.5" class="lg"/>
<text transform="translate(128.3 686.5) scale(0.994 1)" font-size="18.75">slope = -0.723</text>
<text transform="translate(128.3 708.7) scale(0.994 1)" font-size="18.75"><tspan class="m" font-size="19">r</tspan> = -0.994</text>
<text transform="translate(129.5 730.7) scale(0.994 1)" font-size="18.75"><tspan class="m" font-size="19">M</tspan><tspan class="m" font-size="13" dy="3.5">A</tspan><tspan dy="-3.5"> = 0.729</tspan></text>
<text transform="translate(344 652) scale(1.005 1)" font-size="23.5" text-anchor="middle">WalenTest</text>
<text transform="translate(344 1168) scale(0.934 1)" font-size="17.8" text-anchor="middle">V<tspan class="m" font-size="12" dy="2.3">A</tspan><tspan dy="-2.3">(km/s)</tspan></text>
<text transform="translate(45 891) rotate(-90) scale(0.934 1)" font-size="17.8" text-anchor="middle">V<tspan class="m" font-size="9.8" dy="2.3" textLength="58.5" lengthAdjust="spacing">remaining</tspan><tspan dy="-2.3">(km/s)</tspan></text>
<clipPath id="c5"><rect x="673" y="662" width="454" height="454"/></clipPath>
<path d="M730.5 1116.2V662.2M787.5 1116.2V662.2M843.5 1116.2V662.2M900.5 1116.2V662.2M957.5 1116.2V662.2M1014.5 1116.2V662.2M1070.5 1116.2V662.2M673 1059.5H1127M673 1003.5H1127M673 946.5H1127M673 889.5H1127M673 832.5H1127M673 776.5H1127M673 719.5H1127" class="gr" clip-path="url(#c5)"/>
<polyline points="861.49,762.56 878.29,778.22 887.97,793.59 892.24,801.71 827.47,795.3 819.5,722.42 875.44,705.34 895.37,693.52" fill="none" stroke="#0000ff" stroke-width="2.08" stroke-linejoin="round" clip-path="url(#c5)"/>
<polyline points="912.46,760.43 931.25,707.47 914.59,731.53 934.23,817.65 944.48,812.38 977.51,791.32" fill="none" stroke="#0000ff" stroke-width="2.08" stroke-linejoin="round" clip-path="url(#c5)"/>
<polyline points="875.44,705.34 872.6,708.47 875.16,720.57 901.78,751.17 866.19,754.31 863.63,738.36 867.62,741.21 901.35,758.29 917.44,768.54 912.46,760.43" fill="none" stroke="#0000ff" stroke-width="2.08" stroke-linejoin="round" clip-path="url(#c5)"/>
<polyline points="878.72,710.6 875.16,720.57 877.58,737.65 871.17,756.87 885.41,759 895.37,792.46 911.74,775.37" fill="none" stroke="#0000ff" stroke-width="2.08" stroke-linejoin="round" clip-path="url(#c5)"/>
<polyline points="866.19,754.31 871.17,767.12 883.27,764.7 885.41,759" fill="none" stroke="#0000ff" stroke-width="2.08" stroke-linejoin="round" clip-path="url(#c5)"/>
<polyline points="887.97,793.59 899.36,774.23 902.78,787.47 887.54,958.47 899.36,1113.52 888.97,1076.8 885.41,1081.49 856.65,1078.51 888.54,1071.1 898.22,1063.27 818.51,1023.42 842.42,969.29 866.19,980.25 904.34,927.3 899.64,861.1 919.29,858.83 927.83,859.68 938.36,864.95 943.49,879.18 937.37,892.28 964.41,898.4 937.37,892.28 920.57,884.16 902.78,865.66 899.64,861.1 938.36,864.95" fill="none" stroke="#0000ff" stroke-width="2.08" stroke-linejoin="round" clip-path="url(#c5)"/>
<polyline points="944.48,812.38 937.37,849.4 938.08,865.05 928.11,859.64 924.56,823.35 937.37,849.4" fill="none" stroke="#0000ff" stroke-width="2.08" stroke-linejoin="round" clip-path="url(#c5)"/>
<g fill="#0000ff" clip-path="url(#c5)">
<circle cx="861.49" cy="762.56" r="3.65"/>
<circle cx="878.29" cy="778.22" r="3.65"/>
<circle cx="887.97" cy="793.59" r="3.65"/>
<circle cx="892.24" cy="801.71" r="3.65"/>
<circle cx="827.47" cy="795.3" r="3.65"/>
<circle cx="819.5" cy="722.42" r="3.65"/>
<circle cx="875.44" cy="705.34" r="3.65"/>
<circle cx="895.37" cy="693.52" r="3.65"/>
<circle cx="912.46" cy="760.43" r="3.65"/>
<circle cx="931.25" cy="707.47" r="3.65"/>
<circle cx="914.59" cy="731.53" r="3.65"/>
<circle cx="934.23" cy="817.65" r="3.65"/>
<circle cx="944.48" cy="812.38" r="3.65"/>
<circle cx="977.51" cy="791.32" r="3.65"/>
<circle cx="872.6" cy="708.47" r="3.65"/>
<circle cx="875.16" cy="720.57" r="3.65"/>
<circle cx="901.78" cy="751.17" r="3.65"/>
<circle cx="866.19" cy="754.31" r="3.65"/>
<circle cx="863.63" cy="738.36" r="3.65"/>
<circle cx="867.62" cy="741.21" r="3.65"/>
<circle cx="901.35" cy="758.29" r="3.65"/>
<circle cx="917.44" cy="768.54" r="3.65"/>
<circle cx="878.72" cy="710.6" r="3.65"/>
<circle cx="877.58" cy="737.65" r="3.65"/>
<circle cx="871.17" cy="756.87" r="3.65"/>
<circle cx="885.41" cy="759" r="3.65"/>
<circle cx="895.37" cy="792.46" r="3.65"/>
<circle cx="911.74" cy="775.37" r="3.65"/>
<circle cx="871.17" cy="767.12" r="3.65"/>
<circle cx="883.27" cy="764.7" r="3.65"/>
<circle cx="899.36" cy="774.23" r="3.65"/>
<circle cx="902.78" cy="787.47" r="3.65"/>
<circle cx="887.54" cy="958.47" r="3.65"/>
<circle cx="899.36" cy="1113.52" r="3.65"/>
<circle cx="885.41" cy="1081.49" r="3.65"/>
<circle cx="856.65" cy="1078.51" r="3.65"/>
<circle cx="888.54" cy="1071.1" r="3.65"/>
<circle cx="898.22" cy="1063.27" r="3.65"/>
<circle cx="818.51" cy="1023.42" r="3.65"/>
<circle cx="842.42" cy="969.29" r="3.65"/>
<circle cx="866.19" cy="980.25" r="3.65"/>
<circle cx="904.34" cy="927.3" r="3.65"/>
<circle cx="899.64" cy="861.1" r="3.65"/>
<circle cx="919.29" cy="858.83" r="3.65"/>
<circle cx="927.83" cy="859.68" r="3.65"/>
<circle cx="938.36" cy="864.95" r="3.65"/>
<circle cx="943.49" cy="879.18" r="3.65"/>
<circle cx="937.37" cy="892.28" r="3.65"/>
<circle cx="964.41" cy="898.4" r="3.65"/>
<circle cx="920.57" cy="884.16" r="3.65"/>
<circle cx="902.78" cy="865.66" r="3.65"/>
<circle cx="937.37" cy="849.4" r="3.65"/>
<circle cx="924.56" cy="823.35" r="3.65"/>
</g>
<path d="M673.5 1116.2v-8M673.5 662.2v8M730.5 1116.2v-8M730.5 662.2v8M787.5 1116.2v-8M787.5 662.2v8M843.5 1116.2v-8M843.5 662.2v8M900.5 1116.2v-8M900.5 662.2v8M957.5 1116.2v-8M957.5 662.2v8M1014.5 1116.2v-8M1014.5 662.2v8M1070.5 1116.2v-8M1070.5 662.2v8M1127.5 1116.2v-8M1127.5 662.2v8M673 1116.5h8M1127 1116.5h-8M673 1059.5h8M1127 1059.5h-8M673 1003.5h8M1127 1003.5h-8M673 946.5h8M1127 946.5h-8M673 889.5h8M1127 889.5h-8M673 832.5h8M1127 832.5h-8M673 776.5h8M1127 776.5h-8M673 719.5h8M1127 719.5h-8M673 662.5h8M1127 662.5h-8" class="tk"/>
<rect x="673" y="662" width="454" height="454" class="sp"/>
<text transform="translate(672.7 1138) scale(0.915 1)" font-size="17.8" text-anchor="middle">−60</text>
<text transform="translate(729.7 1138) scale(0.915 1)" font-size="17.8" text-anchor="middle">−40</text>
<text transform="translate(786.7 1138) scale(0.915 1)" font-size="17.8" text-anchor="middle">−20</text>
<text transform="translate(842.7 1138) scale(0.915 1)" font-size="17.8" text-anchor="middle">0</text>
<text transform="translate(899.7 1138) scale(0.915 1)" font-size="17.8" text-anchor="middle">20</text>
<text transform="translate(956.7 1138) scale(0.915 1)" font-size="17.8" text-anchor="middle">40</text>
<text transform="translate(1013.7 1138) scale(0.915 1)" font-size="17.8" text-anchor="middle">60</text>
<text transform="translate(1069.7 1138) scale(0.915 1)" font-size="17.8" text-anchor="middle">80</text>
<text transform="translate(1126.7 1138) scale(0.915 1)" font-size="17.8" text-anchor="middle">100</text>
<text transform="translate(664.3 1121) scale(0.915 1)" font-size="17.8" text-anchor="end">−60</text>
<text transform="translate(664.3 1064) scale(0.915 1)" font-size="17.8" text-anchor="end">−40</text>
<text transform="translate(664.3 1008) scale(0.915 1)" font-size="17.8" text-anchor="end">−20</text>
<text transform="translate(664.3 951) scale(0.915 1)" font-size="17.8" text-anchor="end">0</text>
<text transform="translate(664.3 894) scale(0.915 1)" font-size="17.8" text-anchor="end">20</text>
<text transform="translate(664.3 837) scale(0.915 1)" font-size="17.8" text-anchor="end">40</text>
<text transform="translate(664.3 780) scale(0.915 1)" font-size="17.8" text-anchor="end">60</text>
<text transform="translate(664.3 724) scale(0.915 1)" font-size="17.8" text-anchor="end">80</text>
<text transform="translate(664.3 667) scale(0.915 1)" font-size="17.8" text-anchor="end">100</text>
<text transform="translate(959.3 650) scale(0.982 1)" font-size="23.5" text-anchor="end">Hodogram (V2_V1 MVAV</text>
<text transform="translate(961.2 652.8) scale(1.25 1)" font-size="13.3" class="m" textLength="60.4" lengthAdjust="spacing">remaining</text>
<text transform="translate(1121.6 650) scale(0.97 1)" font-size="23.5" text-anchor="end">frame)</text>
<text transform="translate(900 1167) scale(0.934 1)" font-size="17.8" text-anchor="middle">V2(km/s)</text>
<text transform="translate(614.2 890.4) rotate(-90) scale(0.934 1)" font-size="17.8" text-anchor="middle">V1(km/s)</text>
<text y="1093" font-size="18.75"><tspan x="685.9" class="m" font-size="16.5">λ</tspan><tspan x="696.2" dy="3" class="r" font-size="11.5">1</tspan><tspan x="703.5" dy="-1" class="r" font-size="21" font-weight="200">/</tspan><tspan x="714.3" dy="-2" class="m" font-size="16.5">λ</tspan><tspan x="724.1" dy="3" class="r" font-size="11.5">2</tspan><tspan x="734.7" dy="-3" class="r" font-size="18">≈</tspan></text>
<text transform="translate(756.1 1093) scale(0.994 1)" font-size="18.75">10.76</text>
<clipPath id="c6"><rect x="1229" y="662" width="454" height="454"/></clipPath>
<path d="M1279.5 1116.2V662.2M1336.5 1116.2V662.2M1392.5 1116.2V662.2M1449.5 1116.2V662.2M1506.5 1116.2V662.2M1563.5 1116.2V662.2M1619.5 1116.2V662.2M1676.5 1116.2V662.2M1229 1059.5H1683M1229 1003.5H1683M1229 946.5H1683M1229 889.5H1683M1229 832.5H1683M1229 776.5H1683M1229 719.5H1683" class="gr" clip-path="url(#c6)"/>
<polyline points="1426.42,693.44 1452.38,705.28 1472.31,722.48 1497.37,778.28 1507.05,793.88 1488.6,801.28 1486.55,792.17 1485.98,787.05 1476.53,775.09 1507.05,793.88" fill="none" stroke="#0000ff" stroke-width="2.08" stroke-linejoin="round" clip-path="url(#c6)"/>
<polyline points="1431.54,707.33 1450.68,731.25 1483.13,806.41 1485.98,817.22 1489.62,849.38 1493.61,859.29 1481.08,865.55" fill="none" stroke="#0000ff" stroke-width="2.08" stroke-linejoin="round" clip-path="url(#c6)"/>
<polyline points="1439.52,707.9 1444.64,710.18 1462.63,736.37 1470.6,750.6 1476.3,754.02 1480.28,764.27 1479.72,768.26 1476.53,775.09" fill="none" stroke="#0000ff" stroke-width="2.08" stroke-linejoin="round" clip-path="url(#c6)"/>
<polyline points="1455.46,720.43 1466.62,738.08 1461.49,740.36 1472.88,756.3 1469.47,759.72 1472.88,761.99 1476.3,767.69 1485.98,787.05" fill="none" stroke="#0000ff" stroke-width="2.08" stroke-linejoin="round" clip-path="url(#c6)"/>
<polyline points="1488.83,762.22 1497.37,778.28" fill="none" stroke="#0000ff" stroke-width="2.08" stroke-linejoin="round" clip-path="url(#c6)"/>
<polyline points="1444.64,710.18 1455.46,720.43 1461.49,740.36" fill="none" stroke="#0000ff" stroke-width="2.08" stroke-linejoin="round" clip-path="url(#c6)"/>
<polyline points="1439.52,707.9 1450.68,731.25 1469.47,759.72" fill="none" stroke="#0000ff" stroke-width="2.08" stroke-linejoin="round" clip-path="url(#c6)"/>
<polyline points="1469.47,812.44 1445.55,791.37 1485.98,817.22" fill="none" stroke="#0000ff" stroke-width="2.08" stroke-linejoin="round" clip-path="url(#c6)"/>
<polyline points="1469.47,812.44 1489.96,859.86 1493.61,859.29 1505.57,861 1509.1,865.55 1501.35,884.34 1490.53,892.31 1484.5,898.35" fill="none" stroke="#0000ff" stroke-width="2.08" stroke-linejoin="round" clip-path="url(#c6)"/>
<polyline points="1486.55,792.17 1483.47,823.26 1469.47,958.36 1399.43,1113.02 1448.26,1071.03 1445.12,1081.71 1447.54,1078.43 1448.26,1071.03 1458.51,1063.49 1489.25,1023.35 1500.5,969.54 1502.78,980.64" fill="none" stroke="#0000ff" stroke-width="2.08" stroke-linejoin="round" clip-path="url(#c6)"/>
<polyline points="1491.44,866.46 1489.4,879.44 1490.53,892.31" fill="none" stroke="#0000ff" stroke-width="2.08" stroke-linejoin="round" clip-path="url(#c6)"/>
<polyline points="1505.57,861 1501.35,884.34 1496.46,927.27 1500.5,969.54" fill="none" stroke="#0000ff" stroke-width="2.08" stroke-linejoin="round" clip-path="url(#c6)"/>
<g fill="#0000ff" clip-path="url(#c6)">
<circle cx="1426.42" cy="693.44" r="3.65"/>
<circle cx="1452.38" cy="705.28" r="3.65"/>
<circle cx="1472.31" cy="722.48" r="3.65"/>
<circle cx="1497.37" cy="778.28" r="3.65"/>
<circle cx="1507.05" cy="793.88" r="3.65"/>
<circle cx="1488.6" cy="801.28" r="3.65"/>
<circle cx="1486.55" cy="792.17" r="3.65"/>
<circle cx="1485.98" cy="787.05" r="3.65"/>
<circle cx="1476.53" cy="775.09" r="3.65"/>
<circle cx="1431.54" cy="707.33" r="3.65"/>
<circle cx="1450.68" cy="731.25" r="3.65"/>
<circle cx="1485.98" cy="817.22" r="3.65"/>
<circle cx="1489.62" cy="849.38" r="3.65"/>
<circle cx="1493.61" cy="859.29" r="3.65"/>
<circle cx="1481.08" cy="865.55" r="3.65"/>
<circle cx="1439.52" cy="707.9" r="3.65"/>
<circle cx="1444.64" cy="710.18" r="3.65"/>
<circle cx="1462.63" cy="736.37" r="3.65"/>
<circle cx="1470.6" cy="750.6" r="3.65"/>
<circle cx="1476.3" cy="754.02" r="3.65"/>
<circle cx="1480.28" cy="764.27" r="3.65"/>
<circle cx="1479.72" cy="768.26" r="3.65"/>
<circle cx="1455.46" cy="720.43" r="3.65"/>
<circle cx="1466.62" cy="738.08" r="3.65"/>
<circle cx="1461.49" cy="740.36" r="3.65"/>
<circle cx="1472.88" cy="756.3" r="3.65"/>
<circle cx="1469.47" cy="759.72" r="3.65"/>
<circle cx="1472.88" cy="761.99" r="3.65"/>
<circle cx="1476.3" cy="767.69" r="3.65"/>
<circle cx="1488.83" cy="762.22" r="3.65"/>
<circle cx="1469.47" cy="812.44" r="3.65"/>
<circle cx="1445.55" cy="791.37" r="3.65"/>
<circle cx="1505.57" cy="861" r="3.65"/>
<circle cx="1509.1" cy="865.55" r="3.65"/>
<circle cx="1501.35" cy="884.34" r="3.65"/>
<circle cx="1490.53" cy="892.31" r="3.65"/>
<circle cx="1484.5" cy="898.35" r="3.65"/>
<circle cx="1483.47" cy="823.26" r="3.65"/>
<circle cx="1469.47" cy="958.36" r="3.65"/>
<circle cx="1399.43" cy="1113.02" r="3.65"/>
<circle cx="1448.26" cy="1071.03" r="3.65"/>
<circle cx="1445.12" cy="1081.71" r="3.65"/>
<circle cx="1447.54" cy="1078.43" r="3.65"/>
<circle cx="1458.51" cy="1063.49" r="3.65"/>
<circle cx="1489.25" cy="1023.35" r="3.65"/>
<circle cx="1500.5" cy="969.54" r="3.65"/>
<circle cx="1502.78" cy="980.64" r="3.65"/>
<circle cx="1491.44" cy="866.46" r="3.65"/>
<circle cx="1489.4" cy="879.44" r="3.65"/>
<circle cx="1496.46" cy="927.27" r="3.65"/>
</g>
<path d="M1279.5 1116.2v-8M1279.5 662.2v8M1336.5 1116.2v-8M1336.5 662.2v8M1392.5 1116.2v-8M1392.5 662.2v8M1449.5 1116.2v-8M1449.5 662.2v8M1506.5 1116.2v-8M1506.5 662.2v8M1563.5 1116.2v-8M1563.5 662.2v8M1619.5 1116.2v-8M1619.5 662.2v8M1676.5 1116.2v-8M1676.5 662.2v8M1229 1116.5h8M1683 1116.5h-8M1229 1059.5h8M1683 1059.5h-8M1229 1003.5h8M1683 1003.5h-8M1229 946.5h8M1683 946.5h-8M1229 889.5h8M1683 889.5h-8M1229 832.5h8M1683 832.5h-8M1229 776.5h8M1683 776.5h-8M1229 719.5h8M1683 719.5h-8M1229 662.5h8M1683 662.5h-8" class="tk"/>
<rect x="1229" y="662" width="454" height="454" class="sp"/>
<text transform="translate(1278.7 1138) scale(0.915 1)" font-size="17.8" text-anchor="middle">40</text>
<text transform="translate(1335.7 1138) scale(0.915 1)" font-size="17.8" text-anchor="middle">60</text>
<text transform="translate(1391.7 1138) scale(0.915 1)" font-size="17.8" text-anchor="middle">80</text>
<text transform="translate(1448.7 1138) scale(0.915 1)" font-size="17.8" text-anchor="middle">100</text>
<text transform="translate(1505.7 1138) scale(0.915 1)" font-size="17.8" text-anchor="middle">120</text>
<text transform="translate(1562.7 1138) scale(0.915 1)" font-size="17.8" text-anchor="middle">140</text>
<text transform="translate(1618.7 1138) scale(0.915 1)" font-size="17.8" text-anchor="middle">160</text>
<text transform="translate(1675.7 1138) scale(0.915 1)" font-size="17.8" text-anchor="middle">180</text>
<text transform="translate(1220.3 1121) scale(0.915 1)" font-size="17.8" text-anchor="end">−60</text>
<text transform="translate(1220.3 1064) scale(0.915 1)" font-size="17.8" text-anchor="end">−40</text>
<text transform="translate(1220.3 1008) scale(0.915 1)" font-size="17.8" text-anchor="end">−20</text>
<text transform="translate(1220.3 951) scale(0.915 1)" font-size="17.8" text-anchor="end">0</text>
<text transform="translate(1220.3 894) scale(0.915 1)" font-size="17.8" text-anchor="end">20</text>
<text transform="translate(1220.3 837) scale(0.915 1)" font-size="17.8" text-anchor="end">40</text>
<text transform="translate(1220.3 780) scale(0.915 1)" font-size="17.8" text-anchor="end">60</text>
<text transform="translate(1220.3 724) scale(0.915 1)" font-size="17.8" text-anchor="end">80</text>
<text transform="translate(1220.3 667) scale(0.915 1)" font-size="17.8" text-anchor="end">100</text>
<text transform="translate(1515.3 650) scale(0.982 1)" font-size="23.5" text-anchor="end">Hodogram (V3_V1 MVAV</text>
<text transform="translate(1517.2 652.8) scale(1.25 1)" font-size="13.3" class="m" textLength="60.4" lengthAdjust="spacing">remaining</text>
<text transform="translate(1677.6 650) scale(0.97 1)" font-size="23.5" text-anchor="end">frame)</text>
<text transform="translate(1456 1167) scale(0.934 1)" font-size="17.8" text-anchor="middle">V3(km/s)</text>
<text transform="translate(1170.2 890.4) rotate(-90) scale(0.934 1)" font-size="17.8" text-anchor="middle">V1(km/s)</text>
<text y="1093" font-size="18.75"><tspan x="1261" class="m" font-size="16.5">λ</tspan><tspan x="1271.3" dy="3" class="r" font-size="11.5">1</tspan><tspan x="1278.6" dy="-1" class="r" font-size="21" font-weight="200">/</tspan><tspan x="1289.4" dy="-2" class="m" font-size="16.5">λ</tspan><tspan x="1299.2" dy="3" class="r" font-size="11.5">3</tspan><tspan x="1309.8" dy="-3" class="r" font-size="18">≈</tspan></text>
<text transform="translate(1331.2 1093) scale(0.994 1)" font-size="18.75">23.27</text>
<clipPath id="c7"><rect x="117" y="1305" width="1566" height="222"/></clipPath>
<polyline points="117,1432.5 1683,1432.5" fill="none" stroke="#000" stroke-width="1.04" stroke-linejoin="round" clip-path="url(#c7)" stroke-dasharray="12.5 12.5"/>
<polyline points="117,1328.02 146,1330.87 175,1334 204,1336.57 233,1335.43 262,1345.11 291,1397.21 320,1382.69 349,1378.99 378,1381.83 407,1378.42 436,1357.63 465,1352.22 494,1353.36 523,1355.36 552,1341.41 581,1347.67 610,1346.25 639,1340.55 668,1345.96 697,1355.36 726,1352.51 755,1351.37 784,1346.53 813,1341.69 842,1345.96 871,1349.66 900,1345.96 929,1353.08 958,1343.97 987,1337.7 1016,1340.84 1045,1337.7 1074,1335.71 1103,1334.57 1132,1330.3 1161,1329.16 1190,1332.01 1219,1331.44 1248,1331.73 1277,1331.73 1306,1332.01 1335,1334.57 1364,1332.3 1393,1333.72 1422,1332.01 1451,1332.86 1480,1336.28 1509,1336.57 1538,1335.71 1567,1337.14 1596,1326.32 1625,1322.05 1654,1329.16 1683,1335.43" fill="none" stroke="#ff0000" stroke-width="2.08" stroke-linejoin="round" clip-path="url(#c7)"/>
<polyline points="117,1492.3 146,1494.29 175,1499.7 204,1500.84 233,1501.98 262,1506.53 291,1518.49 320,1522.19 349,1518.49 378,1517.35 407,1523.9 436,1506.53 465,1508.81 494,1514.22 523,1521.33 552,1513.36 581,1519.91 610,1517.06 639,1513.08 668,1517.06 697,1526.46 726,1524.18 755,1523.33 784,1518.2 813,1511.09 842,1515.93 871,1520.77 900,1515.07 929,1513.08 958,1509.95 987,1496.57 1016,1492.58 1045,1495.14 1074,1497.14 1103,1495.43 1132,1488.59 1161,1487.17 1190,1496 1219,1492.3 1248,1491.16 1277,1490.3 1306,1488.59 1335,1484.61 1364,1487.17 1393,1491.73 1422,1490.02 1451,1492.86 1480,1499.41 1509,1499.7 1538,1496 1567,1504.25 1596,1489.73 1625,1468.95 1654,1480.34 1683,1482.33" fill="none" stroke="#008000" stroke-width="2.08" stroke-linejoin="round" clip-path="url(#c7)"/>
<polyline points="117,1449.88 146,1454.15 175,1452.44 204,1455.57 233,1452.44 262,1434.79 291,1351.09 320,1364.18 349,1361.9 378,1357.92 407,1370.73 436,1367.03 465,1378.7 494,1386.67 523,1402.9 552,1432.79 581,1436.21 610,1438.2 639,1429.09 668,1429.95 697,1429.38 726,1430.23 755,1430.23 784,1435.07 813,1444.75 842,1441.05 871,1440.2 900,1449.59 929,1469.8 958,1458.42 987,1470.09 1016,1480.05 1045,1469.23 1074,1464.11 1103,1464.68 1132,1465.25 1161,1459.56 1190,1455.28 1219,1460.41 1248,1463.83 1277,1465.82 1306,1468.1 1335,1477.21 1364,1469.23 1393,1466.39 1422,1465.53 1451,1460.98 1480,1458.13 1509,1461.26 1538,1459.56 1567,1448.17 1596,1442.76 1625,1459.56 1654,1471.51 1683,1480.62" fill="none" stroke="#0000ff" stroke-width="2.08" stroke-linejoin="round" clip-path="url(#c7)"/>
<path d="M291.5 1527.45v-8M291.5 1305.4v8M581.5 1527.45v-8M581.5 1305.4v8M871.5 1527.45v-8M871.5 1305.4v8M1161.5 1527.45v-8M1161.5 1305.4v8M1451.5 1527.45v-8M1451.5 1305.4v8M117 1527.5h8M1683 1527.5h-8M117 1496.5h8M1683 1496.5h-8M117 1464.5h8M1683 1464.5h-8M117 1432.5h8M1683 1432.5h-8M117 1401.5h8M1683 1401.5h-8M117 1369.5h8M1683 1369.5h-8M117 1337.5h8M1683 1337.5h-8M117 1305.5h8M1683 1305.5h-8" class="tk"/>
<rect x="117" y="1305" width="1566" height="222" class="sp"/>
<text transform="translate(290.7 1550) scale(0.934 1)" font-size="17.8" text-anchor="middle">03/25 11:16:27</text>
<text transform="translate(580.7 1550) scale(0.934 1)" font-size="17.8" text-anchor="middle">03/25 11:16:37</text>
<text transform="translate(870.7 1550) scale(0.934 1)" font-size="17.8" text-anchor="middle">03/25 11:16:47</text>
<text transform="translate(1160.7 1550) scale(0.934 1)" font-size="17.8" text-anchor="middle">03/25 11:16:57</text>
<text transform="translate(1450.7 1550) scale(0.934 1)" font-size="17.8" text-anchor="middle">03/25 11:17:07</text>
<text transform="translate(108.3 1532) scale(0.915 1)" font-size="17.8" text-anchor="end">−60</text>
<text transform="translate(108.3 1501) scale(0.915 1)" font-size="17.8" text-anchor="end">−40</text>
<text transform="translate(108.3 1469) scale(0.915 1)" font-size="17.8" text-anchor="end">−20</text>
<text transform="translate(108.3 1437) scale(0.915 1)" font-size="17.8" text-anchor="end">0</text>
<text transform="translate(108.3 1405) scale(0.915 1)" font-size="17.8" text-anchor="end">20</text>
<text transform="translate(108.3 1374) scale(0.915 1)" font-size="17.8" text-anchor="end">40</text>
<text transform="translate(108.3 1342) scale(0.915 1)" font-size="17.8" text-anchor="end">60</text>
<text transform="translate(108.3 1310) scale(0.915 1)" font-size="17.8" text-anchor="end">80</text>
<text transform="translate(900 1295) scale(0.99 1)" font-size="23.5" text-anchor="middle">Magnetic Field (RTN Frame)</text>
<text transform="translate(60 1418.6) rotate(-90) scale(0.934 1)" font-size="17.8" text-anchor="middle">B(nT)</text>
<clipPath id="c8"><rect x="117" y="1639" width="1566" height="222"/></clipPath>
<polyline points="117,1750.5 1683,1750.5" fill="none" stroke="#000" stroke-width="1.04" stroke-linejoin="round" clip-path="url(#c8)" stroke-dasharray="12.5 12.5"/>
<polyline points="117,1829.28 146,1826.15 175,1823.02 204,1820.46 233,1821.31 262,1814.19 291,1774.33 320,1785.15 349,1789.14 378,1787.43 407,1788 436,1808.5 465,1812.2 494,1809.64 523,1805.94 552,1816.19 581,1809.64 610,1811.35 639,1817.32 668,1812.2 697,1802.8 726,1805.65 755,1806.79 784,1811.35 813,1815.62 842,1811.35 871,1807.64 900,1810.78 929,1803.66 958,1812.77 987,1818.46 1016,1815.9 1045,1819.03 1074,1821.02 1103,1822.16 1132,1826.72 1161,1828.14 1190,1824.44 1219,1825.3 1248,1825.01 1277,1825.01 1306,1824.73 1335,1822.45 1364,1824.44 1393,1823.02 1422,1824.73 1451,1823.87 1480,1820.46 1509,1820.17 1538,1821.31 1567,1819.89 1596,1831.27 1625,1838.39 1654,1827.86 1683,1822.16" fill="none" stroke="#ff0000" stroke-width="2.08" stroke-linejoin="round" clip-path="url(#c8)"/>
<polyline points="117,1738.18 146,1735.05 175,1737.32 204,1735.33 233,1737.89 262,1754.41 291,1830.99 320,1819.6 349,1820.74 378,1824.16 407,1814.19 436,1813.05 465,1803.09 494,1797.11 523,1784.58 552,1757.25 581,1755.26 610,1753.27 639,1759.81 668,1760.38 697,1762.95 726,1761.52 755,1761.24 784,1756.4 813,1746.15 842,1750.7 871,1752.41 900,1743.3 929,1725.94 958,1734.48 987,1721.95 1016,1713.12 1045,1722.52 1074,1727.07 1103,1726.51 1132,1725.08 1161,1729.35 1190,1734.48 1219,1729.07 1248,1726.51 1277,1724.51 1306,1719.67 1335,1713.69 1364,1720.53 1393,1724.23 1422,1724.51 1451,1729.07 1480,1732.77 1509,1729.92 1538,1730.78 1567,1742.16 1596,1743.87 1625,1726.22 1654,1716.26 1683,1710.56" fill="none" stroke="#008000" stroke-width="2.08" stroke-linejoin="round" clip-path="url(#c8)"/>
<polyline points="117,1680.1 146,1678.39 175,1674.12 204,1673.27 233,1672.7 262,1672.7 291,1683.52 320,1675.83 349,1678.96 378,1680.67 407,1672.7 436,1685.22 465,1680.38 494,1674.98 523,1666.72 552,1667 581,1661.59 610,1663.59 639,1667.86 668,1664.44 697,1657.89 726,1659.6 755,1660.17 784,1663.3 813,1667.29 842,1664.16 871,1661.02 900,1663.59 929,1663.3 958,1666.15 987,1674.69 1016,1677.54 1045,1676.11 1074,1674.98 1103,1676.4 1132,1681.52 1161,1683.23 1190,1676.97 1219,1679.25 1248,1679.53 1277,1680.38 1306,1680.95 1335,1683.52 1364,1682.09 1393,1678.96 1422,1680.38 1451,1678.96 1480,1673.84 1509,1673.27 1538,1676.68 1567,1671.56 1596,1683.52 1625,1689.21 1654,1687.79 1683,1684.94" fill="none" stroke="#0000ff" stroke-width="2.08" stroke-linejoin="round" clip-path="url(#c8)"/>
<polyline points="117,1642.8 146,1643.66 175,1643.66 204,1644.23 233,1643.66 262,1649.07 291,1641.1 320,1641.38 349,1641.38 378,1641.1 407,1641.38 436,1641.1 465,1641.67 494,1642.23 523,1643.37 552,1642.8 581,1642.23 610,1643.37 639,1642.23 668,1643.09 697,1642.23 726,1642.23 755,1642.23 784,1642.8 813,1643.66 842,1643.66 871,1642.8 900,1643.66 929,1645.08 958,1643.94 987,1644.23 1016,1645.08 1045,1644.8 1074,1643.94 1103,1643.94 1132,1643.37 1161,1644.8 1190,1643.66 1219,1643.66 1248,1643.66 1277,1643.66 1306,1643.66 1335,1644.8 1364,1644.23 1393,1644.23 1422,1643.94 1451,1644.8 1480,1644.51 1509,1643.94 1538,1645.37 1567,1644.23 1596,1643.94 1625,1643.66 1654,1644.23 1683,1644.23" fill="none" stroke="#000" stroke-width="2.08" stroke-linejoin="round" clip-path="url(#c8)"/>
<path d="M291.5 1860.89v-8M291.5 1638.84v8M581.5 1860.89v-8M581.5 1638.84v8M871.5 1860.89v-8M871.5 1638.84v8M1161.5 1860.89v-8M1161.5 1638.84v8M1451.5 1860.89v-8M1451.5 1638.84v8M117 1861.5h8M1683 1861.5h-8M117 1833.5h8M1683 1833.5h-8M117 1805.5h8M1683 1805.5h-8M117 1778.5h8M1683 1778.5h-8M117 1750.5h8M1683 1750.5h-8M117 1722.5h8M1683 1722.5h-8M117 1694.5h8M1683 1694.5h-8M117 1667.5h8M1683 1667.5h-8M117 1639.5h8M1683 1639.5h-8" class="tk"/>
<rect x="117" y="1639" width="1566" height="222" class="sp"/>
<text transform="translate(290.7 1884) scale(0.934 1)" font-size="17.8" text-anchor="middle">03/25 11:16:27</text>
<text transform="translate(580.7 1884) scale(0.934 1)" font-size="17.8" text-anchor="middle">03/25 11:16:37</text>
<text transform="translate(870.7 1884) scale(0.934 1)" font-size="17.8" text-anchor="middle">03/25 11:16:47</text>
<text transform="translate(1160.7 1884) scale(0.934 1)" font-size="17.8" text-anchor="middle">03/25 11:16:57</text>
<text transform="translate(1450.7 1884) scale(0.934 1)" font-size="17.8" text-anchor="middle">03/25 11:17:07</text>
<text transform="translate(108.3 1866) scale(0.915 1)" font-size="17.8" text-anchor="end">−80</text>
<text transform="translate(108.3 1838) scale(0.915 1)" font-size="17.8" text-anchor="end">−60</text>
<text transform="translate(108.3 1810) scale(0.915 1)" font-size="17.8" text-anchor="end">−40</text>
<text transform="translate(108.3 1782) scale(0.915 1)" font-size="17.8" text-anchor="end">−20</text>
<text transform="translate(108.3 1755) scale(0.915 1)" font-size="17.8" text-anchor="end">0</text>
<text transform="translate(108.3 1727) scale(0.915 1)" font-size="17.8" text-anchor="end">20</text>
<text transform="translate(108.3 1699) scale(0.915 1)" font-size="17.8" text-anchor="end">40</text>
<text transform="translate(108.3 1671) scale(0.915 1)" font-size="17.8" text-anchor="end">60</text>
<text transform="translate(108.3 1644) scale(0.915 1)" font-size="17.8" text-anchor="end">80</text>
<text transform="translate(900 1628) scale(0.99 1)" font-size="23.5" text-anchor="middle">Magnetic Field (Flux Rope Frame)</text>
<text transform="translate(60 1752.16) rotate(-90) scale(0.934 1)" font-size="17.8" text-anchor="middle">B(nT)</text>
<clipPath id="c9"><rect x="117" y="1972" width="1566" height="222"/></clipPath>
<polyline points="117,2018.09 146,2016.66 175,2015.52 204,2013.53 233,2013.53 262,2001 291,1983.35 320,1991.32 349,1992.75 378,1990.47 407,1992.18 436,2002.71 465,2006.13 494,2004.14 523,2004.99 552,2010.4 581,2005.84 610,2008.41 639,2010.4 668,2007.27 697,2002.43 726,2004.99 755,2005.27 784,2007.55 813,2009.54 842,2007.55 871,2006.7 900,2007.55 929,2004.99 958,2009.54 987,2013.25 1016,2012.11 1045,2013.25 1074,2013.25 1103,2014.38 1132,2017.23 1161,2016.66 1190,2015.52 1219,2015.52 1248,2016.09 1277,2016.09 1306,2016.09 1335,2016.09 1364,2015.81 1393,2014.38 1422,2016.66 1451,2014.95 1480,2013.81 1509,2012.96 1538,2013.81 1567,2013.53 1596,2019.79 1625,2023.21 1654,2017.52 1683,2014.67" fill="none" stroke="#ff0000" stroke-width="2.08" stroke-linejoin="round" clip-path="url(#c9)"/>
<polyline points="117,2159.01 146,2156.45 175,2154.46 204,2156.45 233,2155.02 262,2153.03 291,2152.75 320,2151.04 349,2154.46 378,2151.32 407,2149.62 436,2156.45 465,2154.46 494,2151.61 523,2149.9 552,2151.32 581,2149.62 610,2150.47 639,2150.75 668,2149.05 697,2145.91 726,2148.48 755,2148.19 784,2149.33 813,2151.89 842,2149.33 871,2148.48 900,2151.32 929,2150.75 958,2150.75 987,2158.16 1016,2158.73 1045,2156.16 1074,2154.74 1103,2157.3 1132,2161.86 1161,2160.15 1190,2159.3 1219,2157.87 1248,2161.86 1277,2160.72 1306,2163.85 1335,2162.71 1364,2160.15 1393,2157.3 1422,2161.86 1451,2158.73 1480,2155.59 1509,2155.31 1538,2155.88 1567,2155.59 1596,2160.43 1625,2165.84 1654,2162.71 1683,2163" fill="none" stroke="#008000" stroke-width="2.08" stroke-linejoin="round" clip-path="url(#c9)"/>
<polyline points="117,2141.36 146,2142.21 175,2143.35 204,2139.65 233,2141.07 262,2159.86 291,2173.25 320,2171.54 349,2174.1 378,2172.39 407,2170.11 436,2172.11 465,2165.27 494,2164.99 523,2156.73 552,2150.47 581,2147.62 610,2148.48 639,2150.47 668,2151.04 697,2149.05 726,2150.47 755,2148.76 784,2147.91 813,2143.64 842,2145.91 871,2147.91 900,2140.79 929,2135.1 958,2142.5 987,2133.1 1016,2128.83 1045,2137.09 1074,2137.94 1103,2137.66 1132,2137.94 1161,2139.65 1190,2140.79 1219,2139.94 1248,2137.66 1277,2136.52 1306,2133.1 1335,2133.1 1364,2139.08 1393,2136.8 1422,2134.53 1451,2138.51 1480,2141.93 1509,2139.37 1538,2142.21 1567,2143.35 1596,2147.62 1625,2139.08 1654,2132.82 1683,2129.4" fill="none" stroke="#0000ff" stroke-width="2.08" stroke-linejoin="round" clip-path="url(#c9)"/>
<path d="M291.5 2194.33v-8M291.5 1972.28v8M581.5 2194.33v-8M581.5 1972.28v8M871.5 2194.33v-8M871.5 1972.28v8M1161.5 2194.33v-8M1161.5 1972.28v8M1451.5 2194.33v-8M1451.5 1972.28v8M117 2194.5h8M1683 2194.5h-8M117 2157.5h8M1683 2157.5h-8M117 2120.5h8M1683 2120.5h-8M117 2083.5h8M1683 2083.5h-8M117 2046.5h8M1683 2046.5h-8M117 2009.5h8M1683 2009.5h-8M117 1972.5h8M1683 1972.5h-8" class="tk"/>
<rect x="117" y="1972" width="1566" height="222" class="sp"/>
<text transform="translate(290.7 2217) scale(0.934 1)" font-size="17.8" text-anchor="middle">03/25 11:16:27</text>
<text transform="translate(580.7 2217) scale(0.934 1)" font-size="17.8" text-anchor="middle">03/25 11:16:37</text>
<text transform="translate(870.7 2217) scale(0.934 1)" font-size="17.8" text-anchor="middle">03/25 11:16:47</text>
<text transform="translate(1160.7 2217) scale(0.934 1)" font-size="17.8" text-anchor="middle">03/25 11:16:57</text>
<text transform="translate(1450.7 2217) scale(0.934 1)" font-size="17.8" text-anchor="middle">03/25 11:17:07</text>
<text transform="translate(108.3 2199) scale(0.915 1)" font-size="17.8" text-anchor="end">−100</text>
<text transform="translate(108.3 2162) scale(0.915 1)" font-size="17.8" text-anchor="end">0</text>
<text transform="translate(108.3 2125) scale(0.915 1)" font-size="17.8" text-anchor="end">100</text>
<text transform="translate(108.3 2088) scale(0.915 1)" font-size="17.8" text-anchor="end">200</text>
<text transform="translate(108.3 2051) scale(0.915 1)" font-size="17.8" text-anchor="end">300</text>
<text transform="translate(108.3 2014) scale(0.915 1)" font-size="17.8" text-anchor="end">400</text>
<text transform="translate(108.3 1977) scale(0.915 1)" font-size="17.8" text-anchor="end">500</text>
<text transform="translate(900 1961) scale(0.99 1)" font-size="23.5" text-anchor="middle">Solar Wind Velocity (RTN Frame)</text>
<text transform="translate(48.1 2085.5) rotate(-90) scale(0.934 1)" font-size="17.8" text-anchor="middle">Vsw(km/s)</text>
<clipPath id="c10"><rect x="117" y="2306" width="1566" height="222"/></clipPath>
<polyline points="117,2456.14 146,2447.31 175,2404.61 204,2432.79 233,2432.79 262,2314.93 291,2431.65 320,2400.62 349,2397.49 378,2382.12 407,2399.77 436,2425.11 465,2399.48 494,2378.7 523,2425.11 552,2395.21 581,2435.36 610,2427.95 639,2390.09 668,2389.52 697,2402.05 726,2390.66 755,2438.77 784,2385.53 813,2412.01 842,2366.46 871,2400.05 900,2425.39 929,2396.92 958,2445.32 987,2418.84 1016,2394.07 1045,2417.14 1074,2425.96 1103,2453.29 1132,2468.95 1161,2411.44 1190,2429.66 1219,2441.62 1248,2454.43 1277,2461.83 1306,2454.15 1335,2435.07 1364,2442.47 1393,2439.63 1422,2416.85 1451,2431.37 1480,2367.88 1509,2427.95 1538,2407.46 1567,2429.38 1596,2473.79 1625,2501.12 1654,2407.17 1683,2459.56" fill="none" stroke="#0000ff" stroke-width="2.08" stroke-linejoin="round" clip-path="url(#c10)"/>
<path d="M291.5 2527.77v-8M291.5 2305.72v8M581.5 2527.77v-8M581.5 2305.72v8M871.5 2527.77v-8M871.5 2305.72v8M1161.5 2527.77v-8M1161.5 2305.72v8M1451.5 2527.77v-8M1451.5 2305.72v8M117 2528.5h8M1683 2528.5h-8M117 2500.5h8M1683 2500.5h-8M117 2472.5h8M1683 2472.5h-8M117 2445.5h8M1683 2445.5h-8M117 2417.5h8M1683 2417.5h-8M117 2389.5h8M1683 2389.5h-8M117 2361.5h8M1683 2361.5h-8M117 2333.5h8M1683 2333.5h-8M117 2306.5h8M1683 2306.5h-8" class="tk"/>
<rect x="117" y="2306" width="1566" height="222" class="sp"/>
<text transform="translate(290.7 2551) scale(0.934 1)" font-size="17.8" text-anchor="middle">03/25 11:16:27</text>
<text transform="translate(580.7 2551) scale(0.934 1)" font-size="17.8" text-anchor="middle">03/25 11:16:37</text>
<text transform="translate(870.7 2551) scale(0.934 1)" font-size="17.8" text-anchor="middle">03/25 11:16:47</text>
<text transform="translate(1160.7 2551) scale(0.934 1)" font-size="17.8" text-anchor="middle">03/25 11:16:57</text>
<text transform="translate(1450.7 2551) scale(0.934 1)" font-size="17.8" text-anchor="middle">03/25 11:17:07</text>
<text transform="translate(108.3 2533) scale(0.915 1)" font-size="17.8" text-anchor="end">0.06</text>
<text transform="translate(108.3 2505) scale(0.915 1)" font-size="17.8" text-anchor="end">0.07</text>
<text transform="translate(108.3 2477) scale(0.915 1)" font-size="17.8" text-anchor="end">0.08</text>
<text transform="translate(108.3 2449) scale(0.915 1)" font-size="17.8" text-anchor="end">0.09</text>
<text transform="translate(108.3 2422) scale(0.915 1)" font-size="17.8" text-anchor="end">0.10</text>
<text transform="translate(108.3 2394) scale(0.915 1)" font-size="17.8" text-anchor="end">0.11</text>
<text transform="translate(108.3 2366) scale(0.915 1)" font-size="17.8" text-anchor="end">0.12</text>
<text transform="translate(108.3 2338) scale(0.915 1)" font-size="17.8" text-anchor="end">0.13</text>
<text transform="translate(108.3 2311) scale(0.915 1)" font-size="17.8" text-anchor="end">0.14</text>
<text transform="translate(900 2295) scale(0.99 1)" font-size="23.5" text-anchor="middle">Plasma Beta</text>
<text transform="translate(52 2418) rotate(-90) scale(0.934 1)" font-size="17.8" text-anchor="middle" fill="#444"><tspan class="m" font-size="15">β<tspan font-size="10" dy="3">p</tspan></tspan></text>
<clipPath id="c11"><rect x="117" y="2639" width="1566" height="222"/></clipPath>
<polyline points="117,2682.09 146,2676.11 175,2668.71 204,2677.82 233,2737.61 262,2686.08 291,2851.49 320,2801.95 349,2797.4 378,2798.25 407,2795.97 436,2756.11 465,2719.39 494,2715.69 523,2762.95 552,2696.61 581,2759.25 610,2729.64 639,2726.79 668,2701.45 697,2752.7 726,2739.89 755,2761.81 784,2705.44 813,2719.39 842,2697.75 871,2732.48 900,2738.46 929,2741.88 958,2747.86 987,2705.15 1016,2695.76 1045,2725.08 1074,2698.6 1103,2714.26 1132,2700.03 1161,2640.81 1190,2683.23 1219,2695.76 1248,2696.61 1277,2694.62 1306,2704.3 1335,2679.53 1364,2706.86 1393,2699.74 1422,2660.74 1451,2679.53 1480,2733.05 1509,2716.54 1538,2690.35 1567,2698.04 1596,2698.89 1625,2690.63 1654,2655.05 1683,2709.14" fill="none" stroke="#0000ff" stroke-width="2.08" stroke-linejoin="round" clip-path="url(#c11)"/>
<path d="M291.5 2861.21v-8M291.5 2639.16v8M581.5 2861.21v-8M581.5 2639.16v8M871.5 2861.21v-8M871.5 2639.16v8M1161.5 2861.21v-8M1161.5 2639.16v8M1451.5 2861.21v-8M1451.5 2639.16v8M117 2861.5h8M1683 2861.5h-8M117 2824.5h8M1683 2824.5h-8M117 2787.5h8M1683 2787.5h-8M117 2750.5h8M1683 2750.5h-8M117 2713.5h8M1683 2713.5h-8M117 2676.5h8M1683 2676.5h-8M117 2639.5h8M1683 2639.5h-8" class="tk"/>
<rect x="117" y="2639" width="1566" height="222" class="sp"/>
<text transform="translate(290.7 2884) scale(0.934 1)" font-size="17.8" text-anchor="middle">03/25 11:16:27</text>
<text transform="translate(580.7 2884) scale(0.934 1)" font-size="17.8" text-anchor="middle">03/25 11:16:37</text>
<text transform="translate(870.7 2884) scale(0.934 1)" font-size="17.8" text-anchor="middle">03/25 11:16:47</text>
<text transform="translate(1160.7 2884) scale(0.934 1)" font-size="17.8" text-anchor="middle">03/25 11:16:57</text>
<text transform="translate(1450.7 2884) scale(0.934 1)" font-size="17.8" text-anchor="middle">03/25 11:17:07</text>
<text transform="translate(108.3 2866) scale(0.915 1)" font-size="17.8" text-anchor="end">75</text>
<text transform="translate(108.3 2829) scale(0.915 1)" font-size="17.8" text-anchor="end">80</text>
<text transform="translate(108.3 2792) scale(0.915 1)" font-size="17.8" text-anchor="end">85</text>
<text transform="translate(108.3 2755) scale(0.915 1)" font-size="17.8" text-anchor="end">90</text>
<text transform="translate(108.3 2718) scale(0.915 1)" font-size="17.8" text-anchor="end">95</text>
<text transform="translate(108.3 2681) scale(0.915 1)" font-size="17.8" text-anchor="end">100</text>
<text transform="translate(108.3 2644) scale(0.915 1)" font-size="17.8" text-anchor="end">105</text>
<text transform="translate(900 2628) scale(0.99 1)" font-size="23.5" text-anchor="middle">Proton Number Density</text>
<text transform="translate(63.1 2752.5) rotate(-90) scale(0.934 1)" font-size="17.8" text-anchor="middle">Np(#/cc)</text>
<clipPath id="c12"><rect x="117" y="2973" width="1566" height="222"/></clipPath>
<polyline points="117,3120.86 146,3117.73 175,3079.86 204,3106.34 233,3080.72 262,3023.21 291,3011.54 320,3002.71 349,3001.57 378,2980.22 407,3006.13 436,3051.96 465,3043.99 494,3027.48 523,3060.79 552,3056.8 581,3069.62 610,3078.73 639,3036.02 668,3050.26 697,3037.44 726,3031.75 755,3073.03 784,3043.99 813,3068.76 842,3032.32 871,3047.41 900,3071.61 929,3049.97 958,3091.82 987,3081.86 1016,3065.63 1045,3075.88 1074,3090.4 1103,3112.32 1132,3130.83 1161,3099.51 1190,3099.22 1219,3107.2 1248,3119.44 1277,3126.56 1306,3115.45 1335,3110.33 1364,3106.91 1393,3106.06 1422,3096.38 1451,3106.06 1480,3021.22 1509,3086.13 1538,3083.28 1567,3094.95 1596,3137.66 1625,3165.27 1654,3091.82 1683,3123.42" fill="none" stroke="#0000ff" stroke-width="2.08" stroke-linejoin="round" clip-path="url(#c12)"/>
<path d="M291.5 3194.65v-8M291.5 2972.6v8M581.5 3194.65v-8M581.5 2972.6v8M871.5 3194.65v-8M871.5 2972.6v8M1161.5 3194.65v-8M1161.5 2972.6v8M1451.5 3194.65v-8M1451.5 2972.6v8M117 3195.5h8M1683 3195.5h-8M117 3163.5h8M1683 3163.5h-8M117 3131.5h8M1683 3131.5h-8M117 3099.5h8M1683 3099.5h-8M117 3068.5h8M1683 3068.5h-8M117 3036.5h8M1683 3036.5h-8M117 3004.5h8M1683 3004.5h-8M117 2973.5h8M1683 2973.5h-8" class="tk"/>
<rect x="117" y="2973" width="1566" height="222" class="sp"/>
<text transform="translate(290.7 3218) scale(0.934 1)" font-size="17.8" text-anchor="middle">03/25 11:16:27</text>
<text transform="translate(580.7 3218) scale(0.934 1)" font-size="17.8" text-anchor="middle">03/25 11:16:37</text>
<text transform="translate(870.7 3218) scale(0.934 1)" font-size="17.8" text-anchor="middle">03/25 11:16:47</text>
<text transform="translate(1160.7 3218) scale(0.934 1)" font-size="17.8" text-anchor="middle">03/25 11:16:57</text>
<text transform="translate(1450.7 3218) scale(0.934 1)" font-size="17.8" text-anchor="middle">03/25 11:17:07</text>
<text transform="translate(108.3 3199) scale(0.915 1)" font-size="17.8" text-anchor="end">0.10</text>
<text transform="translate(108.3 3168) scale(0.915 1)" font-size="17.8" text-anchor="end">0.12</text>
<text transform="translate(108.3 3136) scale(0.915 1)" font-size="17.8" text-anchor="end">0.14</text>
<text transform="translate(108.3 3104) scale(0.915 1)" font-size="17.8" text-anchor="end">0.16</text>
<text transform="translate(108.3 3073) scale(0.915 1)" font-size="17.8" text-anchor="end">0.18</text>
<text transform="translate(108.3 3041) scale(0.915 1)" font-size="17.8" text-anchor="end">0.20</text>
<text transform="translate(108.3 3009) scale(0.915 1)" font-size="17.8" text-anchor="end">0.22</text>
<text transform="translate(108.3 2977) scale(0.915 1)" font-size="17.8" text-anchor="end">0.24</text>
<text transform="translate(1008.2 2961) scale(0.99 1)" font-size="23.5" text-anchor="end">Proton Temperature and</text>
<text y="2961" font-size="21" class="m"><tspan x="1015.5">T</tspan><tspan x="1030.6" dy="3.3" font-size="13.5">e</tspan><tspan x="1039" dy="-2.3" class="r" font-size="24" font-weight="200">/</tspan><tspan x="1049" dy="-1">T</tspan><tspan x="1063.4" dy="3.3" font-size="13.5">p</tspan></text>
<text transform="translate(53.1 3085.1) rotate(-90) scale(0.934 1)" font-size="17.8" text-anchor="middle">Tp(<tspan class="r" font-size="16.5">10</tspan><tspan font-size="10.5" dy="-6.5" class="r">6</tspan><tspan dy="6.5">K)</tspan></text>
<rect x="1604" y="1312" width="72" height="71.8" class="lg"/>
<polyline points="1613,1325 1636,1325" fill="none" stroke="#ff0000" stroke-width="2.08" stroke-linejoin="round"/>
<text transform="translate(1651.2 1330) scale(0.9 1)" font-size="15.1">Br</text>
<polyline points="1613,1347 1636,1347" fill="none" stroke="#008000" stroke-width="2.08" stroke-linejoin="round"/>
<text transform="translate(1651.2 1352) scale(0.9 1)" font-size="15.1">Bt</text>
<polyline points="1613,1370 1636,1370" fill="none" stroke="#0000ff" stroke-width="2.08" stroke-linejoin="round"/>
<text transform="translate(1651.2 1375) scale(0.9 1)" font-size="15.1">Bn</text>
<rect x="1604" y="1979" width="72" height="71.8" class="lg"/>
<polyline points="1613,1992 1636,1992" fill="none" stroke="#ff0000" stroke-width="2.08" stroke-linejoin="round"/>
<text transform="translate(1651.2 1997) scale(0.9 1)" font-size="15.1">Vr</text>
<polyline points="1613,2014 1636,2014" fill="none" stroke="#008000" stroke-width="2.08" stroke-linejoin="round"/>
<text transform="translate(1651.2 2019) scale(0.9 1)" font-size="15.1">Vt</text>
<polyline points="1613,2037 1636,2037" fill="none" stroke="#0000ff" stroke-width="2.08" stroke-linejoin="round"/>
<text transform="translate(1651.2 2042) scale(0.9 1)" font-size="15.1">Vn</text>
<rect x="1601" y="1646" width="75" height="94" class="lg"/>
<polyline points="1610,1659 1632,1659" fill="none" stroke="#ff0000" stroke-width="2.08" stroke-linejoin="round"/>
<text transform="translate(1647.9 1664) scale(0.9 1)" font-size="15.1">Bx'</text>
<polyline points="1610,1681 1632,1681" fill="none" stroke="#008000" stroke-width="2.08" stroke-linejoin="round"/>
<text transform="translate(1647.9 1686) scale(0.9 1)" font-size="15.1">By'</text>
<polyline points="1610,1703 1632,1703" fill="none" stroke="#0000ff" stroke-width="2.08" stroke-linejoin="round"/>
<text transform="translate(1647.9 1708) scale(0.9 1)" font-size="15.1">Bz'</text>
<polyline points="1610,1725 1632,1725" fill="none" stroke="#000" stroke-width="2.08" stroke-linejoin="round"/>
<text transform="translate(1647.9 1730) scale(0.9 1)" font-size="15.1">|B|</text>
<rect x="124" y="2980" width="71.1" height="27" class="lg"/>
<polyline points="133.5,2993 156.5,2993" fill="none" stroke="#0000ff" stroke-width="2.08" stroke-linejoin="round"/>
<text transform="translate(171.2 2998) scale(0.9 1)" font-size="15.1">Tp</text>
</svg>
</body></html>
